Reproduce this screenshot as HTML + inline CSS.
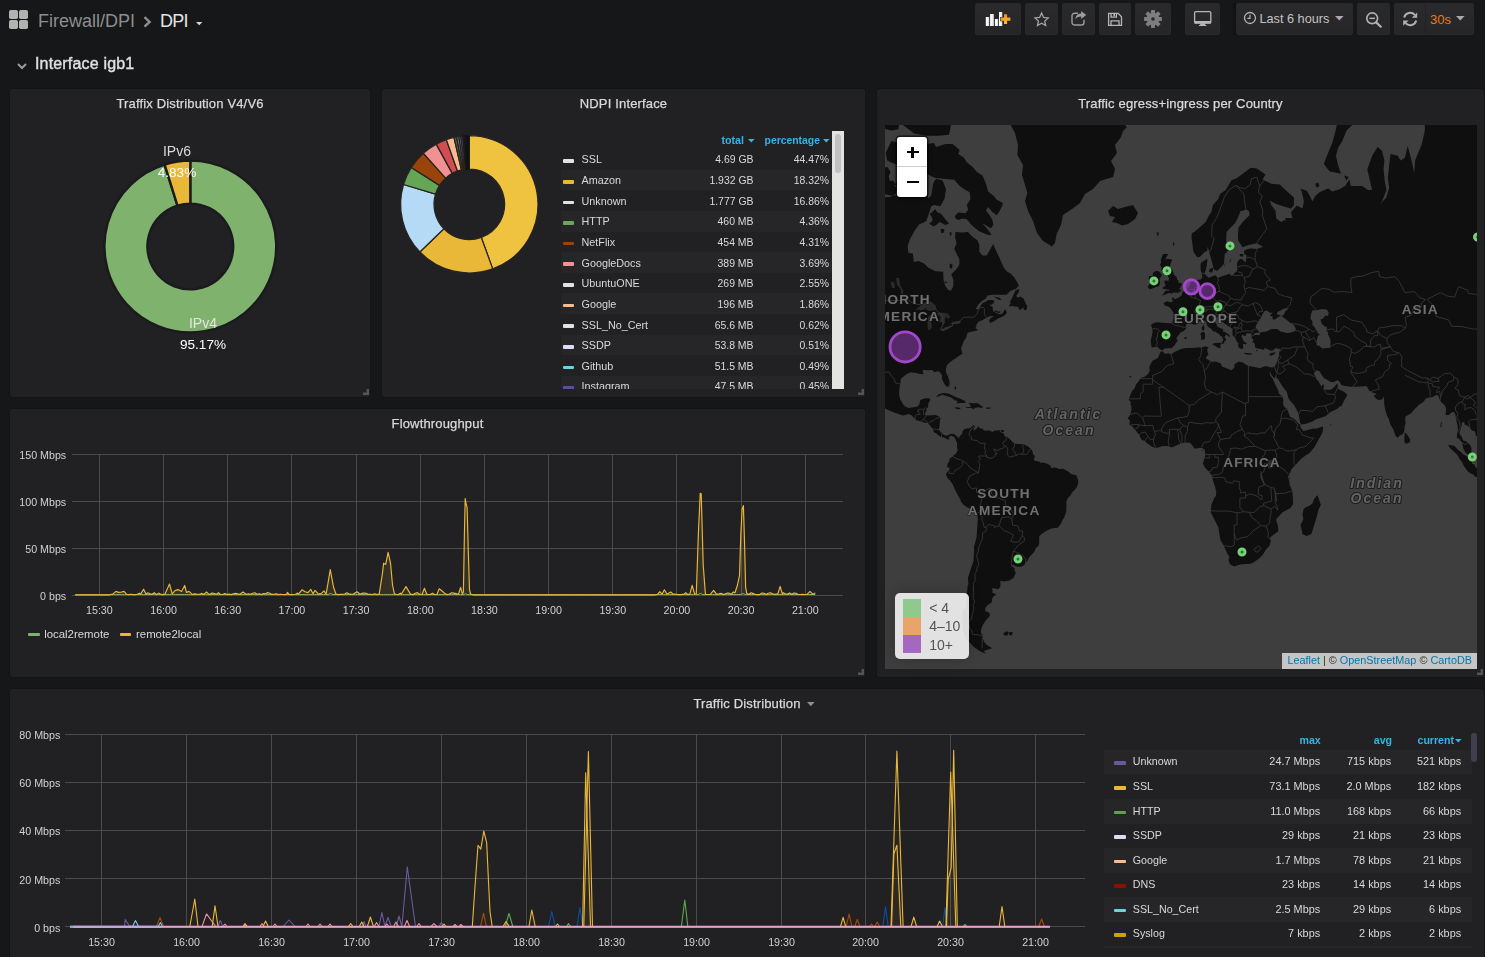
<!DOCTYPE html>
<html><head><meta charset="utf-8"><title>DPI</title>
<style>
*{box-sizing:border-box}
html,body{margin:0;padding:0}
body{width:1485px;height:957px;overflow:hidden;background:#161719;color:#d8d9da;font-family:"Liberation Sans",sans-serif;font-size:12px;position:relative}
.abs{position:absolute}
.panel{position:absolute;background:#212124;border:1px solid #141414;border-radius:3px}
.ptitle{position:absolute;left:0;right:0;text-align:center;font-size:13px;color:#d8d9da;letter-spacing:.16px;-webkit-text-stroke:.25px #d8d9da;white-space:nowrap}
.t{position:absolute;white-space:nowrap;line-height:1}
.rz{position:absolute;width:6px;height:6px}
.btn{position:absolute;top:3px;height:32px;border-radius:2px;background:linear-gradient(#2a2a2c,#262628);border:1px solid #29292b}
svg{position:absolute;overflow:visible}

</style></head>
<body>
<div id="grid" style="position:absolute;left:0;top:40px;width:1485px;height:917px;overflow:hidden;will-change:transform"><div style="position:absolute;left:0;top:-40px;width:1485px;height:957px">
<svg style="left:17px;top:63px" width="10" height="7" viewBox="0 0 10 7"><path d="M1 1 L5 5 L9 1" fill="none" stroke="#9a9a9a" stroke-width="2"/></svg>
<div class="t" style="left:35px;top:56px;font-size:16px;color:#e0e0e0;letter-spacing:.17px;-webkit-text-stroke:.4px #e0e0e0">Interface igb1</div>
<div class="panel" style="left:9px;top:88px;width:362px;height:310px"><div class="ptitle" style="top:7px">Traffix Distribution V4/V6</div><svg class="rz" style="right:1px;bottom:2px" width="6" height="6" viewBox="0 0 6 6"><path d="M3.6 0H6V6H0V3.6H3.6Z" fill="#555558"/></svg></div><svg style="left:0;top:0" width="1485" height="957" viewBox="0 0 1485 957"><path d="M190.30 160.60A85.9 85.9 0 1 1 164.63 164.53L177.48 205.56A42.9 42.9 0 1 0 190.30 203.60Z" fill="#7EB26D" stroke="#1b1b1d" stroke-width="2.4" stroke-linejoin="round"/><path d="M164.63 164.53A85.9 85.9 0 0 1 190.30 160.60L190.30 203.60A42.9 42.9 0 0 0 177.48 205.56Z" fill="#EAB839" stroke="#1b1b1d" stroke-width="2.4" stroke-linejoin="round"/></svg><div class="t" style="left:127px;width:100px;text-align:center;top:144px;font-size:14px;color:#d8d9da">IPv6</div><div class="t" style="left:127px;width:100px;text-align:center;top:165.8px;font-size:13.6px;color:#fff">4.83%</div><div class="t" style="left:153px;width:100px;text-align:center;top:315.8px;font-size:14px;color:#e4e4e4">IPv4</div><div class="t" style="left:153px;width:100px;text-align:center;top:337.6px;font-size:13.6px;color:#fff">95.17%</div>
<div class="panel" style="left:381px;top:88px;width:485px;height:310px"><div class="ptitle" style="top:7px">NDPI Interface</div><svg class="rz" style="right:1px;bottom:2px" width="6" height="6" viewBox="0 0 6 6"><path d="M3.6 0H6V6H0V3.6H3.6Z" fill="#555558"/></svg></div><svg style="left:0;top:0" width="1485" height="957" viewBox="0 0 1485 957"><path d="M469.30 135.60A68.7 68.7 0 0 1 492.69 268.89L481.32 237.49A35.3 35.3 0 0 0 469.30 169.00Z" fill="#EFC340" stroke="#27231f" stroke-width="1.25" stroke-linejoin="round"/><path d="M492.69 268.89A68.7 68.7 0 0 1 419.84 251.99L443.89 228.80A35.3 35.3 0 0 0 481.32 237.49Z" fill="#EAB839" stroke="#27231f" stroke-width="1.25" stroke-linejoin="round"/><path d="M419.84 251.99A68.7 68.7 0 0 1 403.51 184.51L435.50 194.13A35.3 35.3 0 0 0 443.89 228.80Z" fill="#B4DAF6" stroke="#27231f" stroke-width="1.25" stroke-linejoin="round"/><path d="M403.51 184.51A68.7 68.7 0 0 1 411.32 167.45L439.51 185.37A35.3 35.3 0 0 0 435.50 194.13Z" fill="#65A556" stroke="#27231f" stroke-width="1.25" stroke-linejoin="round"/><path d="M411.32 167.45A68.7 68.7 0 0 1 423.29 153.28L445.66 178.09A35.3 35.3 0 0 0 439.51 185.37Z" fill="#99440A" stroke="#27231f" stroke-width="1.25" stroke-linejoin="round"/><path d="M423.29 153.28A68.7 68.7 0 0 1 436.24 144.08L452.31 173.36A35.3 35.3 0 0 0 445.66 178.09Z" fill="#F29191" stroke="#27231f" stroke-width="1.25" stroke-linejoin="round"/><path d="M436.24 144.08A68.7 68.7 0 0 1 446.27 139.57L457.47 171.04A35.3 35.3 0 0 0 452.31 173.36Z" fill="#D04E52" stroke="#27231f" stroke-width="1.25" stroke-linejoin="round"/><path d="M446.27 139.57A68.7 68.7 0 0 1 453.98 137.33L461.43 169.89A35.3 35.3 0 0 0 457.47 171.04Z" fill="#F9BA8F" stroke="#27231f" stroke-width="1.25" stroke-linejoin="round"/><path d="M453.98 137.33A68.7 68.7 0 0 1 456.60 136.78L462.77 169.61A35.3 35.3 0 0 0 461.43 169.89Z" fill="#3F6833" stroke="#27231f" stroke-width="1.25" stroke-linejoin="round"/><path d="M456.60 136.78A68.7 68.7 0 0 1 458.77 136.41L463.89 169.42A35.3 35.3 0 0 0 462.77 169.61Z" fill="#7a8090" stroke="#27231f" stroke-width="1.25" stroke-linejoin="round"/><path d="M458.77 136.41A68.7 68.7 0 0 1 460.86 136.12L464.96 169.27A35.3 35.3 0 0 0 463.89 169.42Z" fill="#52708e" stroke="#27231f" stroke-width="1.25" stroke-linejoin="round"/><path d="M460.86 136.12A68.7 68.7 0 0 1 462.79 135.91L465.96 169.16A35.3 35.3 0 0 0 464.96 169.27Z" fill="#5a4a86" stroke="#27231f" stroke-width="1.25" stroke-linejoin="round"/><path d="M462.79 135.91A68.7 68.7 0 0 1 469.30 135.60L469.30 169.00A35.3 35.3 0 0 0 465.96 169.16Z" fill="#121214" stroke="#1a1a1c" stroke-width="1"/><path d="M462.79 135.91A68.7 68.7 0 0 1 463.87 135.81L466.51 169.11A35.3 35.3 0 0 0 465.96 169.16Z" fill="#2d3a4a" stroke="#111" stroke-width=".6"/><path d="M463.87 135.81A68.7 68.7 0 0 1 464.65 135.76L466.91 169.08A35.3 35.3 0 0 0 466.51 169.11Z" fill="#3a2d4a" stroke="#111" stroke-width=".6"/><path d="M464.65 135.76A68.7 68.7 0 0 1 465.22 135.72L467.20 169.06A35.3 35.3 0 0 0 466.91 169.08Z" fill="#2d4a3a" stroke="#111" stroke-width=".6"/><path d="M465.22 135.72A68.7 68.7 0 0 1 465.62 135.70L467.41 169.05A35.3 35.3 0 0 0 467.20 169.06Z" fill="#4a3a2d" stroke="#111" stroke-width=".6"/><path d="M465.62 135.70A68.7 68.7 0 0 1 465.92 135.68L467.56 169.04A35.3 35.3 0 0 0 467.41 169.05Z" fill="#3a3a3a" stroke="#111" stroke-width=".6"/></svg><div class="abs" style="left:560px;top:129px;width:285px;height:260px;overflow:hidden"><div class="t" style="right:90px;top:5px;line-height:12px;font-size:10.7px;font-weight:bold;color:#33B5E5">total<svg style="position:static;margin-left:4px;margin-bottom:1.5px" width="7" height="4" viewBox="0 0 7 4"><path d="M0 0H6.6L3.3 3.6Z" fill="#33B5E5"/></svg></div><div class="t" style="right:15px;top:6px;line-height:12px;font-size:10.4px;font-weight:bold;color:#33B5E5">percentage<svg style="position:static;margin-left:3px;margin-bottom:1.5px" width="7" height="4" viewBox="0 0 7 4"><path d="M0 0H6.6L3.3 3.6Z" fill="#33B5E5"/></svg></div><div class="abs" style="left:1px;top:20.00px;width:271px;height:20.64px;background:transparent"><div class="abs" style="left:1.5px;top:10.3px;width:11.5px;height:3.6px;border-radius:1px;background:#e2e2e2"></div><div class="t" style="left:20.5px;top:4.4px;line-height:12px;font-size:10.8px;color:#d8d9da">SSL</div><div class="t" style="right:78.5px;top:5.4px;line-height:12px;font-size:10.45px;color:#d8d9da">4.69 GB</div><div class="t" style="right:3px;top:5.4px;line-height:12px;font-size:10.4px;color:#d8d9da">44.47%</div></div><div class="abs" style="left:1px;top:40.64px;width:271px;height:20.64px;background:#262628"><div class="abs" style="left:1.5px;top:10.3px;width:11.5px;height:3.6px;border-radius:1px;background:#EAB839"></div><div class="t" style="left:20.5px;top:4.4px;line-height:12px;font-size:10.8px;color:#d8d9da">Amazon</div><div class="t" style="right:78.5px;top:5.4px;line-height:12px;font-size:10.45px;color:#d8d9da">1.932 GB</div><div class="t" style="right:3px;top:5.4px;line-height:12px;font-size:10.4px;color:#d8d9da">18.32%</div></div><div class="abs" style="left:1px;top:61.28px;width:271px;height:20.64px;background:transparent"><div class="abs" style="left:1.5px;top:10.3px;width:11.5px;height:3.6px;border-radius:1px;background:#e2e2e2"></div><div class="t" style="left:20.5px;top:4.4px;line-height:12px;font-size:10.8px;color:#d8d9da">Unknown</div><div class="t" style="right:78.5px;top:5.4px;line-height:12px;font-size:10.45px;color:#d8d9da">1.777 GB</div><div class="t" style="right:3px;top:5.4px;line-height:12px;font-size:10.4px;color:#d8d9da">16.86%</div></div><div class="abs" style="left:1px;top:81.92px;width:271px;height:20.64px;background:#262628"><div class="abs" style="left:1.5px;top:10.3px;width:11.5px;height:3.6px;border-radius:1px;background:#69A85A"></div><div class="t" style="left:20.5px;top:4.4px;line-height:12px;font-size:10.8px;color:#d8d9da">HTTP</div><div class="t" style="right:78.5px;top:5.4px;line-height:12px;font-size:10.45px;color:#d8d9da">460 MB</div><div class="t" style="right:3px;top:5.4px;line-height:12px;font-size:10.4px;color:#d8d9da">4.36%</div></div><div class="abs" style="left:1px;top:102.56px;width:271px;height:20.64px;background:transparent"><div class="abs" style="left:1.5px;top:10.3px;width:11.5px;height:3.6px;border-radius:1px;background:#99440A"></div><div class="t" style="left:20.5px;top:4.4px;line-height:12px;font-size:10.8px;color:#d8d9da">NetFlix</div><div class="t" style="right:78.5px;top:5.4px;line-height:12px;font-size:10.45px;color:#d8d9da">454 MB</div><div class="t" style="right:3px;top:5.4px;line-height:12px;font-size:10.4px;color:#d8d9da">4.31%</div></div><div class="abs" style="left:1px;top:123.20px;width:271px;height:20.64px;background:#262628"><div class="abs" style="left:1.5px;top:10.3px;width:11.5px;height:3.6px;border-radius:1px;background:#F29191"></div><div class="t" style="left:20.5px;top:4.4px;line-height:12px;font-size:10.8px;color:#d8d9da">GoogleDocs</div><div class="t" style="right:78.5px;top:5.4px;line-height:12px;font-size:10.45px;color:#d8d9da">389 MB</div><div class="t" style="right:3px;top:5.4px;line-height:12px;font-size:10.4px;color:#d8d9da">3.69%</div></div><div class="abs" style="left:1px;top:143.84px;width:271px;height:20.64px;background:transparent"><div class="abs" style="left:1.5px;top:10.3px;width:11.5px;height:3.6px;border-radius:1px;background:#e2e2e2"></div><div class="t" style="left:20.5px;top:4.4px;line-height:12px;font-size:10.8px;color:#d8d9da">UbuntuONE</div><div class="t" style="right:78.5px;top:5.4px;line-height:12px;font-size:10.45px;color:#d8d9da">269 MB</div><div class="t" style="right:3px;top:5.4px;line-height:12px;font-size:10.4px;color:#d8d9da">2.55%</div></div><div class="abs" style="left:1px;top:164.48px;width:271px;height:20.64px;background:#262628"><div class="abs" style="left:1.5px;top:10.3px;width:11.5px;height:3.6px;border-radius:1px;background:#F9BA8F"></div><div class="t" style="left:20.5px;top:4.4px;line-height:12px;font-size:10.8px;color:#d8d9da">Google</div><div class="t" style="right:78.5px;top:5.4px;line-height:12px;font-size:10.45px;color:#d8d9da">196 MB</div><div class="t" style="right:3px;top:5.4px;line-height:12px;font-size:10.4px;color:#d8d9da">1.86%</div></div><div class="abs" style="left:1px;top:185.12px;width:271px;height:20.64px;background:transparent"><div class="abs" style="left:1.5px;top:10.3px;width:11.5px;height:3.6px;border-radius:1px;background:#e2e2e2"></div><div class="t" style="left:20.5px;top:4.4px;line-height:12px;font-size:10.8px;color:#d8d9da">SSL_No_Cert</div><div class="t" style="right:78.5px;top:5.4px;line-height:12px;font-size:10.45px;color:#d8d9da">65.6 MB</div><div class="t" style="right:3px;top:5.4px;line-height:12px;font-size:10.4px;color:#d8d9da">0.62%</div></div><div class="abs" style="left:1px;top:205.76px;width:271px;height:20.64px;background:#262628"><div class="abs" style="left:1.5px;top:10.3px;width:11.5px;height:3.6px;border-radius:1px;background:#DEDAF7"></div><div class="t" style="left:20.5px;top:4.4px;line-height:12px;font-size:10.8px;color:#d8d9da">SSDP</div><div class="t" style="right:78.5px;top:5.4px;line-height:12px;font-size:10.45px;color:#d8d9da">53.8 MB</div><div class="t" style="right:3px;top:5.4px;line-height:12px;font-size:10.4px;color:#d8d9da">0.51%</div></div><div class="abs" style="left:1px;top:226.40px;width:271px;height:20.64px;background:transparent"><div class="abs" style="left:1.5px;top:10.3px;width:11.5px;height:3.6px;border-radius:1px;background:#6ED0E0"></div><div class="t" style="left:20.5px;top:4.4px;line-height:12px;font-size:10.8px;color:#d8d9da">Github</div><div class="t" style="right:78.5px;top:5.4px;line-height:12px;font-size:10.45px;color:#d8d9da">51.5 MB</div><div class="t" style="right:3px;top:5.4px;line-height:12px;font-size:10.4px;color:#d8d9da">0.49%</div></div><div class="abs" style="left:1px;top:247.04px;width:271px;height:20.64px;background:#262628"><div class="abs" style="left:1.5px;top:10.3px;width:11.5px;height:3.6px;border-radius:1px;background:#614D93"></div><div class="t" style="left:20.5px;top:4.4px;line-height:12px;font-size:10.8px;color:#d8d9da">Instagram</div><div class="t" style="right:78.5px;top:5.4px;line-height:12px;font-size:10.45px;color:#d8d9da">47.5 MB</div><div class="t" style="right:3px;top:5.4px;line-height:12px;font-size:10.4px;color:#d8d9da">0.45%</div></div><div class="abs" style="left:272px;top:2px;width:12px;height:258px;background:#e3e3e1"></div><div class="abs" style="left:275px;top:5px;width:6px;height:39px;border-radius:3px;background:#c1c1c1"></div></div>
<div class="panel" style="left:876px;top:88px;width:609px;height:590px"><div class="ptitle" style="top:7px">Traffic egress+ingress per Country</div><svg class="rz" style="right:1px;bottom:2px" width="6" height="6" viewBox="0 0 6 6"><path d="M3.6 0H6V6H0V3.6H3.6Z" fill="#555558"/></svg></div><svg style="left:885px;top:125px;overflow:hidden" width="592" height="544" viewBox="885 125 592 544"><rect x="885" y="125" width="592" height="544" fill="#3e3e3e"/><path d="M875.8 192.3L890.0 195.4L897.7 195.4L903.4 191.6L904.2 182.9L907.1 164.1L909.1 160.5L912.8 165.9L915.6 173.8L914.2 181.3L919.9 187.7L925.6 187.7L928.4 198.4L931.3 195.4L933.2 182.9L936.1 178.8L942.6 180.4L946.0 189.2L944.6 198.4L940.4 206.3L934.1 204.9L931.3 206.3L929.0 213.3L926.1 221.2L919.0 224.5L914.2 231.4L909.9 239.2L907.6 246.2L908.5 252.9L912.8 253.4L913.9 262.0L918.5 260.9L924.1 263.6L928.4 267.7L935.5 271.2L943.2 271.7L943.5 280.0L945.2 285.7L948.0 289.8L950.9 290.7L953.2 286.6L953.4 279.5L951.2 274.2L956.0 269.7L959.4 264.6L959.4 259.4L956.6 253.4L954.3 249.0L956.6 243.3L955.1 237.4L955.4 232.0L962.5 232.6L967.9 232.0L972.5 236.8L977.6 240.4L979.3 245.0L979.3 251.8L982.5 255.6L986.7 255.6L990.1 249.6L993.3 243.9L995.3 249.0L999.2 257.2L1001.5 262.5L1003.8 267.7L1006.6 271.2L1010.9 273.7L1014.3 277.6L1017.4 282.4L1018.9 285.7L1015.7 288.9L1010.6 290.7L1006.6 294.8L999.5 294.8L992.4 294.8L987.6 295.6L985.6 298.7L981.9 300.9L978.5 304.3L975.6 309.0L978.2 309.4L982.2 303.5L988.7 300.0L993.5 300.0L994.4 302.2L991.6 304.8L989.0 304.8L992.7 306.9L993.0 311.0L995.8 312.7L999.5 314.3L1002.1 313.9L1005.2 309.0L1006.9 313.1L1003.8 315.9L998.1 318.4L993.5 321.5L990.4 323.1L989.0 320.4L990.1 318.8L993.8 315.9L991.0 315.9L987.3 317.2L982.5 320.0L978.2 321.9L976.2 325.1L976.2 326.6L975.3 328.2L977.1 329.3L978.2 330.1L975.9 330.8L973.6 331.2L969.7 332.0L967.1 333.5L966.8 335.3L966.0 338.3L964.0 340.5L962.3 345.2L961.1 347.7L961.7 350.9L962.5 353.7L959.4 355.4L955.7 358.2L952.6 360.2L949.7 362.6L946.9 365.3L945.8 369.6L946.3 372.9L948.0 376.5L949.5 381.0L949.5 384.8L948.3 386.7L946.6 386.7L944.6 384.2L943.2 381.6L941.8 378.4L942.1 375.2L939.2 371.6L937.5 371.3L934.7 372.3L931.8 370.0L928.1 370.3L924.7 370.0L922.4 370.6L923.6 374.2L919.9 373.9L916.2 372.9L911.3 372.3L907.9 373.2L904.5 375.8L900.8 378.7L900.3 384.2L899.4 388.9L899.1 395.1L900.5 399.7L903.1 404.2L904.8 406.3L908.5 408.1L911.9 407.5L915.0 406.9L917.6 406.6L919.3 404.5L920.2 400.3L921.3 399.4L925.6 398.2L929.3 398.2L930.4 399.7L928.4 403.3L928.1 407.2L926.4 408.7L926.1 411.7L924.4 415.0L927.0 415.6L931.3 415.3L935.5 415.0L938.7 416.2L940.6 417.6L939.8 422.0L939.5 426.4L938.9 429.3L939.8 431.1L942.1 433.4L944.1 435.1L946.9 435.7L949.7 434.5L951.2 433.7L954.0 433.9L956.9 436.2L957.7 438.3L955.7 440.3L954.6 437.4L951.2 435.4L948.6 437.4L949.7 439.7L946.9 439.1L944.1 437.4L941.2 437.1L939.2 436.0L936.4 433.4L933.8 432.2L933.2 429.3L931.0 426.7L928.7 424.1L927.8 422.6L925.6 422.9L921.3 421.5L917.0 420.6L914.8 418.8L911.3 415.3L908.5 414.1L905.7 415.0L902.8 415.6L898.5 414.1L893.4 412.3L888.6 410.2L885.7 408.7L875.8 404.2ZM957.1 436.5L958.8 438.0L960.3 435.4L962.3 433.7L962.5 431.1L964.5 429.3L966.2 428.4L969.7 428.2L973.4 425.3L975.1 426.4L973.6 429.3L974.2 430.5L977.3 427.9L978.2 425.8L979.3 427.9L982.7 428.7L983.9 430.5L987.0 430.5L989.6 430.5L992.4 431.9L994.4 430.8L998.1 430.2L1001.2 430.2L999.5 431.6L1003.8 433.7L1004.6 436.2L1007.2 437.1L1010.9 440.0L1012.0 441.4L1014.6 443.7L1018.6 444.0L1023.7 444.3L1028.5 446.8L1030.5 448.8L1032.2 450.3L1033.1 454.5L1035.1 456.0L1033.7 459.4L1035.1 460.8L1039.3 461.7L1040.8 462.8L1043.0 462.5L1046.5 463.6L1050.4 465.6L1051.3 467.9L1055.0 467.6L1059.3 469.1L1063.5 468.8L1067.8 471.3L1071.5 474.2L1076.3 475.3L1077.2 477.3L1078.3 481.0L1078.0 483.9L1076.9 487.1L1075.8 488.5L1073.8 490.8L1072.1 492.3L1070.6 495.2L1067.8 498.1L1066.4 501.0L1066.4 505.4L1066.4 509.9L1065.8 512.9L1064.1 517.7L1062.7 519.8L1060.7 524.1L1057.8 527.7L1054.4 528.1L1050.7 528.7L1045.6 531.2L1041.3 534.3L1039.3 536.2L1039.1 540.3L1039.3 542.5L1038.5 545.8L1035.9 548.0L1034.2 552.0L1031.7 554.6L1029.1 557.3L1027.4 561.0L1025.4 562.7L1024.3 565.1L1021.1 566.8L1017.4 566.8L1012.9 565.1L1011.2 563.7L1011.2 565.8L1014.6 568.2L1014.6 571.4L1016.0 572.1L1013.7 577.8L1009.5 580.4L1003.8 581.4L1000.4 580.7L1000.4 587.0L998.1 589.3L992.4 588.1L992.4 592.7L996.4 594.6L994.4 595.8L992.4 597.7L991.6 602.4L988.1 604.8L985.3 608.1L985.3 611.0L989.6 613.0L989.9 616.0L985.3 621.1L982.5 625.5L981.0 629.5L981.0 632.7L982.7 635.9L982.5 637.8L983.9 641.6L986.7 645.0L991.0 647.4L991.8 648.4L988.1 649.4L983.9 650.9L985.9 653.8L979.6 650.9L973.9 646.9L969.7 642.6L964.8 637.8L963.1 630.0L962.5 623.3L962.3 616.8L962.5 611.8L965.4 607.7L966.2 600.5L966.0 597.3L967.1 591.9L967.7 585.1L968.5 584.4L967.9 577.8L969.1 574.2L969.4 573.2L970.8 568.9L972.5 563.7L973.6 560.3L973.9 553.6L974.2 550.3L973.9 547.1L975.3 542.2L976.5 537.4L977.1 529.6L977.6 521.9L977.9 519.5L977.3 514.4L974.5 511.7L971.1 509.0L966.8 506.9L963.4 504.8L960.6 501.0L960.6 500.1L958.0 495.5L956.3 492.3L954.6 488.8L953.7 486.8L952.6 483.9L950.0 480.5L947.5 477.9L946.3 475.6L946.0 474.2L947.5 471.6L948.6 470.8L950.0 467.9L947.2 467.3L947.5 463.6L947.8 463.4L949.5 460.8L949.7 458.5L950.6 458.0L952.9 456.5L953.2 455.7L956.0 453.4L958.0 449.7L956.9 448.0L957.1 444.8L956.9 442.3L955.7 440.3ZM1160.8 351.6L1162.2 351.3L1164.8 353.7L1168.8 353.4L1171.6 354.1L1174.5 352.0L1177.9 350.6L1181.0 349.1L1185.8 348.1L1191.5 348.1L1197.2 347.4L1202.0 347.5L1205.2 346.3L1206.6 346.7L1208.6 347.2L1207.2 349.5L1207.5 352.3L1208.6 354.4L1206.3 356.8L1206.0 358.5L1208.9 360.2L1212.3 361.9L1214.8 361.6L1217.7 362.3L1220.8 363.6L1222.0 366.6L1226.5 368.3L1231.3 370.3L1234.2 368.0L1234.5 364.3L1238.5 361.6L1243.0 362.6L1245.6 364.6L1248.4 366.0L1255.0 367.0L1259.8 368.3L1262.6 367.0L1265.8 366.0L1269.2 367.0L1270.0 371.3L1269.5 372.6L1270.3 375.5L1272.6 378.4L1273.7 381.0L1275.4 384.8L1278.3 390.4L1278.8 393.5L1282.3 396.6L1283.4 399.7L1283.1 403.9L1284.0 406.6L1286.8 408.7L1288.8 413.2L1290.2 417.0L1294.5 419.1L1297.9 422.9L1300.5 425.0L1300.5 427.6L1303.3 431.1L1307.6 429.9L1312.1 428.7L1316.7 428.4L1321.8 426.7L1323.2 427.0L1322.9 430.8L1321.8 433.9L1319.5 438.0L1316.7 443.1L1313.8 448.0L1309.0 453.4L1306.2 455.1L1301.0 459.1L1296.8 463.4L1293.9 466.5L1291.6 469.1L1290.2 472.2L1287.9 477.3L1289.1 480.2L1289.7 485.1L1292.2 490.8L1292.8 496.6L1293.1 504.0L1290.5 508.1L1285.4 510.8L1282.3 512.6L1277.7 517.4L1276.6 518.3L1276.3 521.3L1278.0 525.6L1278.3 531.2L1273.2 534.9L1270.0 537.4L1270.9 540.6L1269.5 545.8L1265.5 550.0L1263.2 554.3L1259.5 558.3L1256.7 560.3L1252.7 563.1L1250.1 563.7L1245.6 564.1L1239.9 564.4L1234.2 566.5L1231.3 565.1L1229.6 563.4L1228.5 559.7L1229.4 557.0L1226.5 552.0L1223.9 545.8L1220.5 540.0L1219.4 534.3L1218.5 528.1L1215.7 521.9L1212.3 515.3L1210.9 512.9L1210.9 508.4L1211.7 504.0L1214.3 498.1L1216.0 496.1L1216.3 491.7L1214.8 485.9L1212.3 477.9L1212.0 475.9L1210.9 474.2L1208.6 471.3L1204.9 467.6L1202.9 463.6L1204.0 459.7L1204.9 457.4L1205.2 454.3L1204.9 450.8L1204.3 449.4L1202.3 448.0L1199.2 448.0L1197.2 448.6L1194.4 448.6L1192.4 445.4L1189.8 442.8L1187.0 442.6L1184.1 442.8L1180.7 443.4L1178.2 444.6L1175.0 446.0L1171.6 447.4L1168.5 446.3L1165.9 446.0L1161.7 446.3L1156.0 448.3L1151.7 446.6L1146.6 442.8L1144.6 441.1L1141.7 439.7L1139.8 436.5L1139.5 434.5L1138.3 433.7L1135.8 430.5L1134.3 429.3L1132.9 426.7L1129.8 425.3L1129.5 422.9L1130.1 421.7L1128.9 419.1L1127.5 418.5L1129.8 415.6L1130.4 414.4L1131.5 409.3L1131.2 405.7L1130.4 404.5L1130.9 401.8L1128.9 400.3L1128.9 398.5L1130.4 395.1L1131.8 391.4L1134.6 388.3L1136.1 384.2L1138.6 381.6L1140.6 378.1L1144.6 376.8L1148.0 373.9L1149.7 370.9L1149.4 367.0L1150.8 363.6L1152.8 360.6L1155.7 359.2L1158.0 357.9L1159.7 353.7ZM1424.8 113.0L1490.2 113.0L1490.2 435.1L1476.0 436.2L1475.4 432.8L1474.5 431.1L1471.7 430.5L1470.0 427.6L1467.4 425.8L1464.6 424.4L1464.3 422.3L1463.2 422.0L1461.7 422.9L1461.5 426.4L1460.6 429.3L1459.5 432.2L1459.8 434.5L1461.7 436.5L1462.9 440.3L1466.0 441.4L1468.0 443.1L1470.6 445.7L1471.4 448.0L1471.4 450.8L1471.7 453.4L1473.7 456.8L1471.7 457.1L1468.0 454.5L1465.4 452.5L1463.7 449.4L1462.6 445.4L1462.0 442.3L1460.9 441.1L1458.3 438.0L1456.9 438.3L1456.9 435.1L1457.8 431.3L1457.8 426.4L1456.6 422.0L1456.3 419.1L1454.9 413.2L1453.2 411.7L1450.9 412.9L1448.4 415.3L1445.5 414.7L1446.1 410.2L1445.8 407.2L1443.8 404.2L1441.5 402.4L1439.8 399.7L1438.4 395.7L1436.1 394.8L1434.7 396.0L1431.9 397.2L1429.0 397.5L1426.2 398.2L1424.8 399.7L1424.2 401.2L1421.4 403.3L1419.1 404.8L1414.2 409.6L1411.4 412.9L1408.3 415.0L1405.7 416.2L1405.1 419.1L1405.7 423.2L1404.6 426.4L1404.3 431.1L1402.6 434.2L1399.7 435.4L1397.7 437.7L1396.0 436.5L1394.3 432.5L1392.9 428.4L1390.6 425.0L1390.1 423.8L1388.9 419.1L1387.2 416.2L1385.8 411.7L1384.4 405.7L1384.1 401.2L1384.1 398.2L1383.2 396.6L1382.7 399.1L1379.3 400.3L1376.4 399.1L1373.6 395.7L1377.0 393.9L1372.1 392.6L1371.3 391.4L1369.0 390.4L1367.9 387.9L1366.5 386.1L1360.8 386.4L1355.1 386.7L1350.8 386.7L1345.1 386.1L1341.4 385.1L1339.4 381.6L1337.4 380.3L1333.2 382.3L1329.5 381.6L1326.6 379.4L1323.8 378.1L1321.8 374.9L1319.5 371.3L1316.4 370.3L1313.8 373.2L1315.3 376.2L1316.1 378.7L1318.7 381.6L1319.8 383.5L1321.5 386.7L1322.4 384.8L1323.2 383.9L1324.1 386.4L1323.2 388.6L1324.1 389.8L1326.6 389.8L1330.9 389.8L1332.0 388.9L1334.6 386.4L1336.9 383.9L1337.7 383.2L1337.7 387.3L1338.3 388.9L1344.0 391.7L1347.4 395.1L1345.1 398.8L1343.7 401.5L1341.7 405.7L1340.0 406.3L1337.4 408.7L1334.3 410.2L1330.9 411.7L1325.8 415.9L1319.5 418.2L1316.7 419.1L1312.4 421.5L1305.3 424.1L1301.0 424.4L1300.2 422.6L1299.3 418.2L1298.5 413.5L1296.2 408.7L1293.4 404.2L1289.7 400.3L1288.5 398.2L1286.8 392.0L1285.4 390.1L1283.1 387.3L1281.1 384.2L1278.3 379.4L1276.3 377.8L1276.9 372.9L1275.1 377.5L1274.7 378.6L1272.9 376.8L1271.2 374.5L1269.9 371.4L1269.2 367.0L1272.6 367.6L1274.9 366.6L1276.1 364.5L1276.9 361.9L1278.3 358.2L1279.1 356.1L1279.1 352.7L1280.3 348.8L1278.3 348.8L1275.7 348.1L1273.2 350.2L1270.6 350.7L1264.6 347.7L1264.1 349.9L1260.1 348.8L1257.5 348.4L1255.2 347.4L1254.7 344.1L1253.8 342.3L1252.4 342.7L1253.5 339.1L1251.5 338.3L1251.8 336.5L1255.0 335.0L1259.8 335.0L1259.8 332.7L1262.6 332.0L1266.6 331.6L1269.7 329.7L1272.6 328.9L1277.1 328.9L1280.6 331.6L1284.0 332.3L1286.8 333.1L1290.2 332.7L1294.8 331.2L1295.6 330.5L1295.6 328.2L1293.9 325.1L1290.2 322.7L1286.8 320.0L1284.8 318.4L1282.5 316.8L1281.4 315.9L1284.0 314.7L1285.4 311.0L1289.1 308.6L1285.4 308.6L1284.0 308.6L1281.1 310.2L1277.4 311.9L1276.9 314.3L1280.8 315.5L1278.0 317.2L1274.6 319.6L1272.6 319.2L1272.6 316.4L1269.7 315.5L1272.9 312.7L1269.7 312.7L1266.9 310.6L1264.6 311.0L1262.6 313.9L1261.8 316.4L1258.9 320.4L1256.7 324.3L1255.5 327.0L1256.9 329.3L1258.7 331.2L1259.8 332.3L1256.9 332.7L1255.0 333.1L1253.2 335.0L1251.8 336.3L1251.5 334.2L1251.0 333.5L1247.0 333.1L1245.6 335.0L1246.1 336.1L1243.9 335.7L1242.4 334.2L1241.6 336.5L1242.7 339.1L1243.6 341.6L1245.6 343.1L1245.6 344.9L1244.7 344.1L1242.7 344.1L1243.3 345.9L1242.7 349.1L1241.3 349.1L1239.6 348.1L1239.0 348.1L1237.9 344.9L1238.7 343.1L1237.3 342.3L1236.2 340.5L1235.3 337.9L1234.2 337.2L1232.5 335.0L1232.5 331.6L1232.5 329.3L1231.1 327.8L1228.8 326.6L1223.9 323.1L1220.5 320.4L1219.7 317.2L1218.3 315.9L1217.1 317.6L1216.0 316.8L1216.0 314.7L1212.3 315.5L1212.6 317.6L1213.1 320.8L1215.7 322.7L1217.7 327.0L1223.4 329.3L1222.8 331.2L1225.4 332.3L1228.5 334.2L1229.9 336.1L1229.6 337.2L1226.2 334.6L1224.5 336.8L1225.9 339.1L1226.2 340.2L1224.2 341.2L1224.5 342.3L1223.1 344.1L1221.8 343.4L1222.2 341.6L1223.4 340.2L1222.0 336.5L1220.0 335.7L1219.4 333.9L1217.7 333.5L1216.0 332.0L1213.1 331.2L1212.0 329.7L1210.6 328.2L1208.9 327.4L1207.2 325.5L1206.6 323.1L1205.2 320.8L1202.6 319.6L1200.6 321.1L1198.6 321.9L1196.1 324.3L1194.1 324.7L1192.7 323.9L1190.1 323.5L1188.4 323.1L1186.1 324.7L1185.8 327.0L1186.7 327.8L1183.6 331.2L1180.7 332.3L1179.6 333.9L1177.3 336.8L1176.4 338.3L1177.9 340.9L1175.9 342.7L1174.7 345.2L1171.0 348.4L1170.2 348.1L1164.8 348.4L1162.2 350.6L1159.4 349.1L1157.4 346.7L1151.7 347.4L1150.6 341.2L1151.7 336.5L1152.6 332.0L1152.0 327.8L1150.8 325.1L1153.7 323.1L1157.4 322.3L1161.7 322.7L1166.5 323.1L1172.2 323.5L1173.3 319.2L1173.9 314.3L1173.0 311.9L1171.0 309.0L1169.3 306.9L1164.8 305.6L1163.6 303.1L1167.3 301.3L1170.2 302.2L1172.7 301.8L1171.9 297.4L1173.9 297.8L1174.2 299.2L1177.6 298.3L1181.6 295.6L1182.4 292.1L1186.7 289.8L1188.7 287.0L1190.7 282.4L1192.9 280.9L1197.2 280.0L1200.6 279.5L1202.3 277.6L1201.8 273.2L1200.6 270.2L1200.6 264.1L1201.8 262.0L1207.5 258.8L1206.9 265.1L1205.7 270.2L1204.6 272.7L1205.7 275.2L1208.6 277.6L1208.3 278.1L1211.7 276.6L1215.7 275.2L1217.7 278.1L1222.8 276.1L1229.9 273.7L1230.5 275.6L1233.1 275.6L1234.2 273.2L1237.0 271.2L1237.3 269.2L1237.0 263.6L1238.5 259.9L1241.6 258.8L1245.6 262.5L1246.7 255.6L1244.1 253.4L1244.1 250.7L1247.6 249.0L1251.3 248.4L1256.9 249.0L1263.2 246.7L1259.8 245.0L1256.9 243.3L1248.4 245.0L1242.7 247.3L1240.4 243.9L1238.2 240.4L1237.9 234.4L1238.5 227.6L1242.7 221.9L1249.5 215.3L1249.0 211.2L1247.0 209.8L1245.9 209.8L1240.4 211.2L1238.5 216.6L1235.0 223.2L1229.9 228.3L1226.5 232.0L1226.2 242.1L1229.9 244.5L1231.3 247.9L1228.8 250.1L1224.8 254.0L1224.2 259.9L1223.9 264.1L1221.7 266.6L1218.0 270.2L1216.6 270.7L1214.3 269.7L1213.4 267.7L1211.1 258.8L1209.2 252.3L1207.7 246.7L1207.2 250.7L1204.3 252.3L1200.1 256.7L1197.2 257.2L1193.5 251.8L1192.4 243.9L1191.5 237.4L1191.8 233.2L1194.9 231.4L1198.6 228.3L1202.9 224.5L1205.7 221.9L1208.6 216.0L1211.4 211.9L1212.9 204.9L1218.3 199.1L1220.0 193.9L1225.7 190.0L1231.3 180.4L1237.0 178.0L1242.7 173.8L1250.7 167.7L1256.9 168.6L1265.5 174.6L1262.6 179.6L1271.2 183.7L1279.7 184.5L1285.4 190.0L1293.9 197.6L1293.9 204.9L1291.1 208.4L1285.4 207.0L1276.9 204.2L1269.7 200.6L1271.2 204.9L1275.4 210.5L1276.3 218.6L1281.1 221.9L1284.8 219.9L1285.4 222.5L1285.4 218.0L1291.1 218.0L1292.5 218.6L1291.1 211.9L1296.8 205.6L1302.5 208.4L1303.9 201.3L1301.9 192.3L1300.5 188.5L1306.7 190.8L1309.6 195.4L1312.4 201.3L1315.3 196.1L1319.5 192.3L1328.1 188.5L1332.3 191.6L1339.4 189.2L1345.1 186.1L1349.4 179.6L1350.8 186.1L1362.2 186.1L1367.9 190.0L1372.1 190.0L1369.3 178.0L1367.3 169.4L1372.1 155.8L1375.0 151.0L1377.8 147.1L1382.1 151.0L1384.4 160.5L1383.5 169.4L1384.9 182.1L1386.4 190.0L1382.1 201.3L1379.3 204.9L1386.4 197.6L1389.2 187.7L1387.8 178.0L1389.2 165.0L1390.6 153.9L1397.7 155.8L1400.6 160.5L1404.9 157.7L1407.7 146.1L1412.0 162.3L1414.2 172.9L1415.1 160.5L1421.9 144.1L1424.8 130.4ZM1161.1 295.9L1165.4 294.5L1168.8 293.0L1171.9 293.4L1173.6 292.5L1178.2 292.7L1181.3 290.9L1181.3 289.8L1179.0 289.3L1180.1 288.0L1182.1 284.3L1181.0 282.8L1178.4 282.8L1178.2 280.0L1177.0 279.5L1176.7 277.1L1173.9 274.7L1173.3 272.7L1172.2 269.2L1169.9 267.7L1168.2 267.7L1169.9 266.1L1171.3 262.0L1172.2 259.4L1167.3 258.8L1165.4 259.9L1166.2 257.2L1168.5 254.0L1163.1 254.0L1162.2 256.1L1160.8 259.9L1161.1 263.6L1159.7 264.1L1161.7 267.7L1161.1 270.7L1163.4 269.2L1163.9 270.2L1162.8 273.2L1163.4 274.2L1167.3 273.2L1167.6 275.2L1168.2 277.1L1169.1 278.6L1168.8 280.5L1167.9 280.7L1165.1 280.5L1164.2 280.9L1164.8 283.3L1163.9 283.3L1165.6 284.3L1165.1 286.1L1162.8 287.5L1162.2 287.5L1163.1 288.9L1165.4 288.9L1168.2 289.8L1169.6 288.9L1168.8 290.7L1165.4 290.7L1164.2 292.5L1162.8 294.8ZM1159.7 280.9L1160.2 282.8L1159.1 286.1L1157.4 286.6L1153.7 288.0L1150.3 289.3L1148.3 288.0L1147.7 286.6L1149.7 284.3L1150.6 282.4L1149.1 280.5L1148.6 277.6L1149.1 276.1L1152.8 276.1L1152.6 274.2L1153.7 272.2L1156.3 270.7L1159.7 271.7L1161.4 274.2L1161.7 276.1L1160.2 277.6L1159.7 278.6ZM1008.6 306.5L1011.2 302.6L1009.5 302.6L1011.5 299.2L1014.3 293.0L1015.7 290.3L1019.4 288.9L1018.6 292.5L1016.0 296.1L1018.0 297.8L1020.3 296.5L1023.7 298.7L1025.1 302.2L1027.4 306.5L1026.3 310.2L1023.7 309.8L1023.7 307.3L1020.9 309.4L1018.6 309.4L1018.6 306.9L1015.2 306.5L1012.3 306.0ZM935.8 396.9L938.4 394.5L942.9 392.9L946.9 393.2L949.7 393.9L952.6 395.4L956.9 397.5L961.1 399.1L964.0 400.6L966.2 402.1L964.0 403.0L961.1 402.9L956.3 403.2L958.0 400.9L955.4 400.6L954.0 399.7L951.2 397.5L948.3 396.6L946.3 396.0L944.1 395.4L942.6 394.5L939.8 396.0L937.5 396.6ZM965.7 407.5L968.5 408.1L971.6 408.1L973.4 409.3L975.3 407.8L978.5 407.2L981.9 408.1L983.0 406.9L981.0 405.7L979.9 404.8L978.2 403.6L975.3 403.2L973.4 403.3L970.2 403.0L968.5 403.3L970.2 404.5L970.5 406.6L971.4 407.1L968.2 406.9L965.7 406.8ZM954.6 407.8L956.9 407.2L960.3 408.1L960.3 409.0L957.7 409.3L954.6 408.1ZM986.2 407.4L990.4 407.5L990.4 408.7L986.2 408.7ZM1212.6 343.8L1215.1 343.1L1221.7 342.7L1220.3 345.6L1220.5 348.4L1217.7 347.4L1214.0 345.2L1212.6 344.5ZM1200.5 332.9L1203.5 331.8L1204.9 333.1L1205.2 336.5L1204.6 339.4L1203.2 339.4L1201.2 340.2L1201.2 336.5L1200.5 334.2ZM1204.0 325.1L1204.5 328.2L1203.5 331.2L1201.8 329.3L1201.8 327.0L1203.2 325.8ZM1244.1 352.7L1246.1 353.0L1250.7 353.2L1252.1 353.7L1251.8 354.4L1247.6 354.8L1244.1 353.5ZM1269.2 354.2L1271.2 353.0L1275.7 352.0L1274.0 354.4L1271.2 355.8L1269.5 355.3ZM1404.6 432.8L1405.4 432.8L1408.3 436.2L1410.3 439.4L1409.7 442.3L1406.6 443.8L1404.9 443.1L1404.4 440.8L1404.3 437.4L1404.6 435.1ZM1317.5 495.2L1320.1 502.5L1320.9 505.1L1319.0 508.4L1317.8 512.3L1316.1 518.9L1313.8 526.5L1311.3 534.0L1306.7 535.9L1302.5 534.3L1301.6 529.3L1300.5 525.0L1303.3 519.5L1302.5 514.4L1303.6 509.0L1306.2 506.9L1309.0 506.0L1312.4 503.4L1313.8 499.6L1316.1 496.6ZM1323.8 164.1L1329.5 171.2L1340.9 173.8L1338.0 165.0L1336.0 155.8L1338.0 148.1L1342.3 141.0L1346.5 130.4L1353.7 123.6L1350.8 113.0L1339.4 113.0L1335.2 132.5L1332.3 143.1L1328.1 153.0ZM1448.4 444.8L1454.6 446.0L1456.9 448.8L1458.0 450.0L1461.2 452.3L1462.9 454.3L1464.6 455.1L1468.0 457.1L1470.3 459.1L1472.6 460.8L1471.7 463.6L1474.3 464.2L1475.4 467.1L1478.8 468.8L1478.8 470.8L1478.5 473.6L1478.2 477.3L1474.8 476.8L1474.0 475.0L1471.7 473.9L1468.3 471.9L1465.7 468.5L1464.0 466.2L1462.7 463.5L1461.2 460.8L1459.2 458.8L1458.3 456.0L1455.5 453.1L1453.8 451.4L1450.7 448.8L1448.7 446.3ZM1209.2 269.2L1213.1 267.4L1213.1 269.7L1212.0 272.7L1209.2 271.7ZM1229.1 262.5L1231.3 257.8L1230.8 260.9ZM1184.1 337.9L1186.1 336.8L1187.0 337.6L1186.1 339.1L1184.4 338.7ZM1329.2 424.7L1332.3 424.8L1330.0 425.5ZM1315.3 183.7L1318.1 182.5L1319.5 186.1L1316.7 187.7ZM921.9 143.1L927.0 144.1L934.1 143.1L936.1 147.1L945.5 144.1L948.3 144.1L952.6 144.1L959.7 150.0L958.3 153.9L964.0 157.7L966.8 162.3L972.5 166.8L976.8 172.0L982.5 175.5L985.3 182.1L986.7 186.1L988.1 191.6L993.8 196.1L996.7 199.8L1002.4 202.7L1002.9 204.2L1000.9 208.4L999.5 211.2L996.7 215.3L992.4 211.9L988.1 207.0L985.9 210.5L989.6 215.3L992.4 219.9L993.3 225.1L991.0 228.3L982.5 223.5L986.7 228.3L989.6 232.0L991.6 235.0L988.1 235.0L983.9 233.2L979.6 231.4L975.3 228.3L971.1 224.5L966.8 219.3L962.5 218.6L958.3 219.9L955.4 218.6L954.9 216.0L958.3 212.6L965.4 213.3L968.2 209.8L966.8 204.9L970.5 199.1L969.7 192.3L965.4 190.0L959.7 186.1L954.0 179.6L951.2 179.6L944.1 178.8L935.5 178.0L931.3 176.3L927.0 173.8L924.1 169.4L921.9 162.3L921.3 154.9L921.6 148.1ZM929.8 213.9L935.5 209.1L936.9 211.9L941.2 213.9L946.9 221.2L949.2 223.2L945.5 225.1L939.8 221.9L934.1 226.4L929.3 223.8L932.7 220.6L931.8 217.3ZM875.8 197.6L890.0 196.9L895.7 193.9L896.8 186.1L892.9 180.4L890.0 181.3L888.6 176.3L890.6 172.0L887.2 166.8L880.1 169.4L877.2 155.8L880.1 149.1L875.8 148.1ZM894.3 185.3L900.0 178.8L904.2 182.1L905.7 186.9L901.4 190.0L895.7 187.7ZM885.7 153.0L891.4 141.0L899.1 143.1L902.0 153.0L898.5 165.0L892.9 163.2L887.2 160.5ZM905.7 141.0L915.6 140.0L920.4 143.1L919.9 151.0L914.2 157.7L911.3 160.5L906.2 158.6L905.1 151.0ZM902.0 113.0L902.8 124.8L914.2 133.6L927.0 135.8L938.4 135.8L948.9 134.7L950.9 125.9L949.7 113.0ZM881.5 113.0L881.5 128.1L891.4 130.4L898.5 129.3L900.0 113.0ZM1003.2 633.6L1006.6 631.3L1008.9 632.3L1007.2 635.5L1004.4 635.5ZM1009.5 631.8L1012.9 632.3L1011.8 635.5L1008.9 635.0ZM993.8 296.5L999.5 297.8L1001.8 300.0L998.1 299.6ZM994.1 310.2L998.1 311.5L1000.9 311.5L999.5 313.1L995.3 311.9ZM1001.2 430.2L1004.1 429.9L1003.8 431.9L1001.2 431.9ZM954.6 386.7L956.3 386.7L956.0 389.5L954.9 389.2ZM1129.2 376.5L1131.5 375.8L1130.7 377.8ZM1288.8 477.0L1289.9 478.5L1289.1 479.3ZM1242.7 340.5L1247.3 343.4L1246.1 343.8L1243.6 341.6ZM1256.1 350.2L1257.5 349.5L1257.2 350.9L1256.4 351.3ZM1344.0 175.5L1348.8 177.1L1346.5 180.4ZM1201.5 450.3L1202.6 450.3L1202.0 451.7ZM1478.5 465.1L1479.7 465.4L1480.2 467.9L1478.8 469.3ZM1483.4 468.2L1485.1 468.5L1484.5 469.9ZM1441.0 422.0L1441.8 422.6L1441.3 427.6L1440.4 427.0ZM1172.7 242.7L1174.7 242.7L1173.6 246.7ZM1156.5 232.6L1158.8 232.6L1158.0 236.8ZM1239.9 254.0L1243.6 254.0L1242.7 256.7L1239.6 256.1ZM1223.9 266.6L1225.9 260.9L1224.5 266.1ZM949.2 232.6L951.7 232.6L950.9 236.8ZM940.6 228.9L944.3 228.9L944.1 232.6L941.2 233.2ZM949.7 263.6L952.6 264.6L952.0 268.7L949.7 267.7ZM943.5 281.4L947.8 281.9L946.0 283.3ZM1010.6 125.0L1015.0 133.0L1018.0 145.0L1017.4 155.0L1023.0 165.0L1022.0 175.0L1025.0 185.0L1027.4 193.0L1025.0 201.0L1028.0 211.0L1033.0 221.0L1037.0 233.0L1043.0 241.0L1052.0 246.4L1055.0 243.0L1056.6 234.0L1061.0 225.0L1063.0 215.0L1072.0 209.0L1080.0 203.0L1085.0 194.0L1093.0 189.0L1100.0 181.0L1113.0 177.0L1115.0 169.0L1111.0 161.0L1117.0 153.0L1115.0 145.0L1121.0 137.0L1123.0 131.0L1127.0 127.0L1125.0 125.0ZM1108.0 211.0L1113.0 206.0L1118.0 209.0L1125.0 207.0L1133.0 205.0L1138.0 213.0L1135.0 219.0L1128.0 224.0L1122.0 225.6L1117.0 223.0L1112.0 222.0L1115.0 217.0L1110.0 216.0Z" fill="#0f0f0f" fill-rule="nonzero"/><path d="M1311.0 314.3L1312.4 310.6L1316.7 310.2L1322.4 309.0L1326.6 309.4L1328.6 311.9L1328.1 315.9L1325.2 315.5L1322.9 318.8L1320.4 319.6L1322.1 324.3L1324.6 326.2L1326.9 327.0L1326.6 330.5L1328.1 332.7L1327.8 333.9L1329.2 336.8L1330.6 340.5L1330.3 345.6L1330.6 347.7L1326.6 348.1L1322.4 348.4L1319.5 345.9L1316.7 345.2L1316.4 342.3L1317.2 339.1L1318.1 335.3L1320.4 335.0L1318.1 333.5L1316.1 329.7L1313.8 326.2L1312.4 325.1L1312.4 321.1L1310.4 318.8Z" fill="#3e3e3e"/><path d="M915.3 310.2L917.6 307.7L921.3 305.6L923.3 304.8L926.4 300.9L931.5 301.8L935.5 305.2L936.4 309.0L936.7 311.0L935.5 310.0L929.8 311.0L925.9 309.4L927.0 307.3L924.1 309.4L920.2 310.6L918.5 309.4ZM928.1 330.1L927.6 327.0L927.6 323.1L928.4 319.2L927.0 318.8L929.8 315.1L931.3 313.9L934.1 313.1L936.1 313.9L934.7 316.4L933.8 318.0L931.8 319.2L931.3 323.1L932.1 327.0L930.4 329.7ZM936.4 313.5L939.8 312.7L942.6 312.7L945.5 313.1L948.3 313.9L950.3 317.6L947.5 318.8L946.0 316.4L944.9 319.2L944.9 323.1L942.9 325.1L942.3 321.9L938.7 322.3L940.1 320.0L940.4 316.8L937.8 314.7ZM940.1 330.1L942.6 331.2L946.9 329.7L950.3 327.8L952.9 325.8L950.3 325.5L948.3 326.6L945.5 327.0L942.6 328.9L940.9 328.2ZM950.3 323.9L952.6 323.9L956.9 323.9L960.6 323.1L960.3 320.8L956.9 321.1L952.6 321.9ZM896.0 278.1L899.1 278.1L900.0 284.7L903.4 291.6L902.8 294.3L901.4 293.9L900.8 289.3L897.1 284.7ZM891.4 281.4L894.3 282.4L894.8 288.0L892.3 288.0L890.6 284.3ZM1268.3 459.9L1273.7 459.9L1274.6 463.6L1272.6 467.9L1268.3 468.5L1267.5 463.6ZM1260.4 470.5L1261.8 473.6L1264.9 484.5L1263.5 484.5L1260.6 477.9ZM1274.0 488.2L1276.3 493.7L1277.4 501.0L1276.0 501.9L1274.9 495.2L1273.7 489.4Z" fill="#3e3e3e" fill-opacity=".62"/><path d="M875.8 300.5L906.5 300.5L907.6 299.2L911.3 302.2L917.0 304.3L922.4 304.8L925.9 303.5M936.1 309.4L936.9 311.0L939.8 313.1L942.6 315.9L942.9 325.1L940.9 328.2L942.6 330.1L952.6 325.8L952.3 323.5L958.8 322.7L960.3 320.4L964.0 317.2L973.9 317.2L975.3 315.9L977.3 313.5L978.2 310.2L980.5 307.1L983.0 307.5L984.4 308.6L984.4 314.3L985.6 316.4L986.7 317.6M901.0 384.3L895.4 382.9L894.3 379.4L891.4 375.8L888.9 371.9L885.2 372.3L883.8 374.5L880.1 372.6L875.8 366.3M915.0 419.0L915.0 416.8L916.5 414.4L920.2 414.4L920.2 413.5L917.3 411.0L918.5 411.0L918.5 409.3L923.7 409.3L923.7 415.0M923.7 409.3L926.1 407.2M926.4 415.6L923.3 419.4L921.0 421.3M923.3 419.4L925.6 420.6L927.6 422.3M929.0 423.5L930.7 421.2L933.5 420.9L936.1 418.2L940.6 417.6M933.5 429.0L936.4 429.3L939.2 429.6M941.5 437.8L941.5 435.1L942.3 433.5M974.5 427.0L971.1 429.0L968.8 434.5L971.4 436.8L971.4 439.7L977.9 440.8L979.9 443.4L985.3 443.1L984.4 448.0L985.9 451.1L984.4 452.8L986.2 454.3L987.0 457.4M987.0 457.4L986.4 456.0L978.8 456.0L978.8 457.7L980.5 459.1L978.2 461.4L979.9 463.9L978.5 472.8M978.5 472.8L976.2 471.6L969.9 467.6L967.7 464.5L963.1 461.1L960.3 459.7L956.9 458.8L953.2 456.8M963.1 461.1L962.3 465.1L959.4 468.2L954.9 470.5L953.4 473.9L950.9 473.3L948.9 473.3L948.9 470.5M978.5 472.8L975.6 473.3L969.9 475.9L967.1 481.6L969.7 486.5L971.6 488.8L976.5 487.9L976.5 492.3L979.3 492.1M979.3 492.1L981.9 496.6L981.0 502.5L979.9 505.7L981.3 508.4L979.3 510.8L979.6 511.4L977.1 513.9M979.3 492.1L983.0 492.3L987.9 489.1L991.3 488.5L991.6 493.7L994.1 496.6L998.7 498.1L1001.5 499.6L1005.2 500.4L1006.1 507.8L1011.2 507.8L1011.8 511.1L1013.7 513.5L1012.9 515.9L1011.8 518.3L1011.9 519.3M1011.9 519.3L1009.2 516.8L1001.5 517.7L999.1 525.7L994.4 527.4L994.1 525.3L991.8 525.3L988.7 524.4L986.2 527.4L984.2 527.4L983.3 522.8L981.6 519.2L982.5 517.1L981.0 515.6L979.6 511.4M986.2 527.4L986.7 528.1L985.9 531.2L982.5 533.0L982.7 538.1L980.5 542.9L978.8 547.4L978.2 551.6L976.5 555.3L978.2 561.4L978.8 564.4L976.8 567.9L977.1 571.0L974.8 573.5L975.3 580.4L973.4 583.7L973.4 592.7L973.1 598.5L974.8 602.0L973.1 604.4L973.9 608.5L972.5 613.9L971.4 619.0L968.5 622.4L969.7 628.6L971.6 630.0L972.5 634.6L978.2 634.6L982.7 636.2M982.2 637.6L982.2 648.4M999.1 525.7L1003.8 530.5L1009.5 532.7L1013.5 535.2L1010.6 541.3L1015.2 542.2L1018.6 541.9L1022.0 536.2M1011.9 519.3L1012.6 525.3L1018.0 525.9L1019.4 530.8L1022.8 531.2L1022.0 536.2M1022.0 536.2L1024.3 537.4L1024.3 541.1L1019.1 544.5L1013.5 551.0M1013.5 551.0L1018.0 553.0L1020.9 554.6L1023.7 556.6L1026.0 559.3L1025.4 562.7M1013.5 551.0L1011.8 558.3L1011.2 563.7M987.0 457.4L991.0 458.5L994.7 456.5L995.3 453.7L997.0 454.3L994.4 450.3L993.5 449.1L998.4 450.6L999.0 449.4L1003.5 448.0L1004.6 446.0L1002.7 444.0L1003.5 441.7L1005.8 440.8L1006.6 436.5M1004.6 446.0L1006.6 446.6L1007.8 449.1L1007.2 454.3L1009.5 457.1L1012.0 456.5L1016.6 455.4L1018.3 453.7L1022.0 454.3L1026.8 454.5L1030.4 449.1M1014.7 444.0L1014.3 446.6L1012.3 449.4L1014.3 451.4L1016.6 455.4M1023.7 444.6L1022.6 446.6L1023.7 450.6L1022.0 454.3M1171.0 354.1L1172.5 359.6L1173.9 363.6L1167.1 365.6L1161.7 371.6L1152.6 375.5L1152.6 380.0M1152.6 378.7L1139.8 378.7M1152.6 380.0L1152.6 384.2L1143.2 384.2L1143.2 392.0L1140.3 393.5L1140.3 398.8L1128.9 398.8M1152.6 380.0L1163.6 387.3L1180.7 399.4L1186.4 403.3L1189.2 405.4L1193.8 404.5L1198.6 400.0L1211.4 392.0M1163.6 387.3L1158.8 387.3L1161.4 416.2L1150.8 416.2L1144.6 415.9L1142.6 418.2M1142.6 418.2L1138.9 414.4L1136.1 412.9L1130.4 414.4M1211.4 392.0L1205.7 388.9L1204.3 382.9L1205.5 378.4L1204.3 370.6M1204.3 370.6L1206.3 369.0L1210.0 362.6L1210.3 360.6M1204.3 370.6L1202.9 364.6L1198.6 359.6L1200.9 355.4L1201.8 347.7M1248.4 366.0L1248.4 396.6L1282.3 396.6M1248.4 396.6L1248.4 402.7L1245.6 402.7L1245.6 404.2M1245.6 404.2L1222.5 392.0L1217.7 394.8L1211.4 392.0M1222.5 392.0L1221.7 403.0L1221.4 412.0L1215.7 419.1L1216.0 421.5L1217.4 423.2M1245.6 404.2L1245.6 415.6L1242.4 416.2L1241.3 420.6L1239.9 424.7L1242.4 429.3L1244.4 432.5L1244.1 436.0M1187.5 427.3L1189.0 422.0L1196.9 423.5L1202.0 423.8L1205.7 422.6L1212.9 423.2L1216.0 421.5M1189.2 405.4L1189.2 412.0L1187.3 416.5L1180.1 417.6L1177.9 417.9M1177.9 417.9L1180.1 422.6L1183.6 425.3L1187.5 427.3M1177.9 417.9L1171.6 420.0L1165.4 422.9L1161.7 428.2L1161.7 431.1M1161.7 431.1L1159.7 430.5L1154.5 431.6L1153.7 429.3L1152.6 425.3L1144.9 425.8L1144.6 423.5L1142.6 418.2M1201.5 447.4L1203.8 442.6L1209.4 441.7L1214.0 433.9L1217.7 428.4L1218.8 424.4L1217.4 423.2M1217.4 423.2L1220.3 429.3L1221.4 432.5L1217.1 432.5L1220.5 439.4L1218.3 443.7L1219.1 447.7L1222.8 452.5L1223.4 454.5M1220.5 439.4L1230.2 438.0L1231.3 435.1L1239.0 430.5L1242.4 429.3M1244.1 436.0L1246.1 437.1L1249.3 440.0L1255.2 446.3M1255.2 446.3L1248.4 446.6L1241.3 449.1L1235.6 448.0L1230.2 448.6L1230.2 450.8L1227.9 459.9L1223.4 467.1L1222.5 472.2L1218.3 474.8L1215.4 474.5L1212.0 475.9M1244.1 436.0L1247.8 432.8L1252.7 433.7L1256.9 434.2L1261.2 432.8L1264.9 433.1L1269.5 427.3L1271.7 425.8L1271.7 429.9L1274.3 433.7L1274.3 436.2M1274.3 436.2L1274.9 430.5L1276.9 426.7L1280.0 424.4L1280.8 419.4L1281.1 417.0L1282.5 411.4L1287.1 408.7M1280.8 419.4L1285.1 417.9L1288.2 418.8L1293.4 420.0L1297.9 425.0M1297.9 425.0L1296.2 429.3L1299.3 429.6L1302.5 435.1L1311.0 438.0L1313.8 438.0L1305.3 446.6L1299.6 447.7L1296.5 449.7L1293.9 452.8L1293.9 463.1L1295.6 465.6M1296.5 449.7L1289.7 451.1L1285.7 450.6L1282.3 448.3L1279.7 448.3L1279.4 447.7L1277.7 445.4L1276.0 441.7L1273.2 436.8L1274.3 436.2M1279.4 447.7L1275.1 450.3L1276.9 456.0L1274.0 460.8L1273.7 463.6L1284.3 469.6L1284.5 470.8L1288.8 474.2M1275.1 450.3L1271.2 450.0L1265.5 450.3L1264.9 454.0L1261.5 458.5L1261.5 464.8M1264.9 450.8L1259.8 448.3L1255.2 446.3M1273.7 463.6L1264.1 463.8L1264.9 467.6L1263.8 471.6L1260.9 473.3L1261.5 478.8L1264.9 484.5L1270.9 487.7L1274.0 487.9L1275.7 493.7L1279.1 493.4L1285.1 493.2L1292.2 490.8M1212.0 477.6L1215.7 477.6L1224.5 477.6L1225.7 481.6L1232.5 483.3L1233.9 480.8L1239.3 481.6L1239.3 487.9L1240.7 490.8L1240.4 492.9L1245.6 492.0L1245.6 498.1L1239.9 498.1L1239.9 507.5L1243.9 511.7M1245.6 496.1L1249.3 494.0L1253.8 494.9L1258.1 496.6L1259.8 499.3L1262.1 499.3L1262.1 495.5L1258.1 494.6L1258.7 487.4L1264.9 484.5M1210.9 510.6L1217.1 511.1L1229.6 511.1L1237.0 512.9L1243.9 511.7L1249.3 512.3M1237.0 512.9L1237.0 525.0L1234.2 525.0L1234.2 533.7L1234.2 545.1M1224.2 545.8L1226.8 546.1L1231.3 546.7L1234.2 545.1M1234.2 533.7L1236.5 540.0L1241.6 537.7L1247.6 536.8L1251.0 533.3L1254.1 529.9L1260.9 525.6M1260.9 525.6L1256.1 520.4L1251.8 517.4L1249.3 512.3L1254.1 512.6L1259.5 506.9L1263.8 505.7L1270.9 509.0L1271.2 512.9L1270.3 515.9L1269.7 522.8L1266.3 526.2L1260.9 525.6M1266.3 526.2L1268.3 532.7L1268.0 537.1L1270.9 540.0M1254.1 549.0L1258.7 545.8L1260.9 548.4L1257.8 552.3L1255.0 551.3L1254.1 549.0M1263.8 505.7L1263.2 503.4L1271.7 501.0L1270.9 487.7M1275.7 493.7L1275.1 502.2L1277.7 507.5L1277.7 510.2L1274.9 506.3L1270.9 509.0M1169.1 446.3L1168.2 441.4L1169.6 433.7L1169.3 429.3M1180.7 443.4L1178.7 439.4L1178.4 433.7L1177.3 429.3M1181.9 443.1L1181.9 435.1L1179.6 429.3M1185.0 442.6L1185.3 435.1L1187.5 431.3L1187.5 427.3M1156.0 448.3L1153.4 442.3L1153.7 439.1L1150.6 439.7L1148.0 436.5L1144.6 441.1M1153.7 439.1L1155.4 433.9L1154.5 431.6M1148.0 436.5L1145.4 432.2L1141.7 432.5L1139.5 434.8M1144.9 425.8L1138.3 424.7L1134.1 424.4L1129.8 425.3M1138.3 424.7L1138.3 427.3L1134.6 429.3M1161.7 431.1L1163.9 432.8L1169.3 433.4M1169.3 429.3L1177.3 429.3L1179.9 429.3L1183.6 425.3M1205.2 454.3L1209.4 454.5L1215.1 454.5L1218.5 454.5L1223.4 454.5M1205.2 458.0L1209.4 458.0L1209.4 454.5M1215.1 454.5L1214.8 457.4L1218.3 457.1L1218.5 462.5L1216.8 467.6L1212.9 467.6L1211.1 471.0L1208.9 471.9M1152.0 329.3L1154.0 328.5L1158.5 329.3L1159.7 330.5L1157.7 332.7L1157.4 337.6L1156.0 337.9L1157.4 343.1L1156.0 345.6L1156.3 346.7M1172.2 323.5L1175.3 325.5L1179.3 325.8L1182.1 327.0L1186.4 327.4M1184.4 291.2L1185.8 292.5L1189.2 295.2L1191.2 297.0L1193.8 298.3L1195.5 298.3L1200.6 300.5L1198.9 306.5L1194.4 311.5L1194.7 312.3L1196.6 313.5L1197.2 316.4L1196.4 319.2L1198.6 320.8L1198.6 321.9M1198.9 306.5L1201.8 306.0L1204.6 306.9L1204.3 309.0L1206.9 309.4L1206.9 311.0L1203.8 311.5L1202.9 313.9L1201.2 311.9L1199.8 313.5L1196.6 313.5M1197.8 280.9L1197.2 285.7L1196.4 287.5L1194.4 288.0L1194.7 292.5L1195.5 298.3M1187.0 289.8L1189.5 289.8L1191.5 289.3L1193.8 290.7L1193.5 292.5L1194.7 292.5M1201.8 273.2L1205.5 273.7M1217.7 278.1L1218.3 280.9L1217.4 283.3L1219.1 286.6L1218.8 288.0L1220.0 291.6L1218.0 291.6L1214.0 294.3L1211.7 294.8L1212.9 297.4L1216.6 301.3L1214.3 303.5L1214.3 306.9L1212.0 306.5L1207.2 306.9L1204.6 306.9M1220.0 291.6L1223.4 293.4L1225.4 294.3L1227.6 294.8L1230.8 298.3L1234.2 299.6L1241.6 300.0L1241.9 297.8L1245.9 292.5L1244.4 289.3L1244.1 284.3L1245.3 282.4L1244.1 277.6L1242.2 275.6L1233.6 275.6M1206.9 309.4L1212.0 309.0L1216.3 311.0L1218.5 311.5L1223.1 309.4L1224.2 306.9L1225.9 304.8L1225.4 302.2L1220.0 300.5L1216.6 301.3M1216.3 311.0L1216.0 314.7M1223.1 309.4L1227.6 313.5L1230.8 313.5L1235.0 312.3L1237.6 311.5L1240.2 306.5L1242.4 304.8L1240.4 303.1L1235.6 302.6L1230.8 305.6L1225.9 304.8M1230.8 298.3L1228.5 301.3L1225.9 304.8M1242.4 304.8L1248.1 306.0L1253.0 303.5L1257.5 315.1L1261.8 316.4M1253.0 303.5L1255.5 302.6L1260.4 305.2L1262.9 311.5L1259.5 311.5L1257.5 315.1M1241.9 320.4L1247.0 322.3L1251.3 321.5L1255.0 320.8L1258.7 322.3M1235.0 312.3L1238.5 316.4L1238.2 318.0L1241.9 320.4L1241.0 323.1L1242.7 324.3L1241.0 327.8M1241.0 327.8L1242.7 331.6L1247.0 330.8L1251.5 331.2L1252.4 330.1L1256.9 328.9M1252.4 330.1L1253.0 331.6L1251.3 333.5M1234.2 337.6L1236.5 333.1L1237.0 333.1L1242.4 331.6M1232.5 329.3L1234.5 327.0L1235.9 329.3L1235.6 331.6L1236.5 333.1M1216.0 315.1L1220.8 315.1L1222.0 312.3L1224.5 311.0M1222.2 316.4L1225.4 316.4L1231.3 317.6L1232.5 320.0L1231.9 323.1L1229.9 326.6M1235.9 329.3L1241.0 327.8M1231.3 317.6L1231.6 313.5M1234.5 327.0L1238.5 327.8L1239.3 323.9L1241.0 323.1M1246.4 257.8L1250.1 257.2L1255.2 259.9M1237.3 267.2L1242.4 265.6L1248.4 266.1L1253.0 269.2L1257.5 266.6M1257.2 249.6L1255.2 253.4L1255.2 259.9L1257.5 266.6M1253.0 269.2L1250.7 273.2L1249.8 276.1L1244.1 277.6M1237.9 271.7L1242.2 273.2L1242.2 275.6M1257.5 266.6L1265.2 269.7L1264.9 273.7L1270.3 280.0L1266.3 281.9L1267.8 286.6M1244.4 289.3L1249.3 287.5L1256.4 288.9L1264.3 290.3L1267.8 286.6M1267.8 286.6L1275.1 288.4L1278.0 293.9L1285.4 296.5L1291.6 297.8L1290.2 304.8L1286.0 308.6M1256.4 243.3L1262.6 234.4L1266.9 228.9L1262.3 215.3L1262.9 210.5L1259.8 202.0L1262.3 196.1L1258.4 192.3L1259.5 186.1M1245.9 209.8L1244.4 199.8L1243.9 193.9L1235.9 185.3M1235.9 185.3L1239.9 187.7L1244.7 188.5L1250.4 184.5L1251.3 178.8L1256.9 177.1L1259.5 186.1L1264.9 179.6M1235.9 185.3L1228.8 190.0L1224.2 197.6L1221.1 206.3L1218.5 213.3L1216.3 218.6L1212.0 225.1L1211.7 236.2L1214.0 238.6L1212.3 245.0L1210.9 250.1L1208.9 252.3M1279.4 351.3L1281.4 350.2L1281.7 348.1L1285.4 348.1L1289.7 348.4L1293.9 347.0L1297.9 347.0L1304.7 346.7M1304.7 346.7L1303.0 342.7L1302.5 338.7L1304.7 337.6L1301.6 336.1L1301.0 332.3L1298.2 330.8L1295.3 330.8M1291.1 323.5L1298.2 324.3L1303.9 326.2L1309.3 329.3L1313.5 332.0L1315.5 329.7M1301.0 332.3L1305.3 331.6L1309.3 329.3M1305.3 331.6L1306.7 334.2L1309.6 338.3L1309.6 340.5L1313.8 337.6L1316.4 342.3M1304.7 337.6L1309.6 340.5M1297.9 347.0L1294.5 355.1L1287.7 359.9L1282.0 363.6L1279.1 362.3M1287.7 359.9L1288.8 364.0L1282.5 366.3L1285.4 369.6L1284.0 371.3L1280.0 373.9L1276.9 373.2M1288.8 364.0L1292.2 365.0L1297.1 367.6L1304.4 373.9L1309.6 374.2L1313.0 376.2L1315.0 376.2M1304.7 346.7L1306.4 350.9L1308.4 354.1L1307.0 357.9L1308.4 361.3L1313.0 363.6L1313.0 368.0L1315.5 371.6M1278.6 360.6L1278.3 363.3L1278.3 366.3L1276.9 372.9M1274.6 367.0L1276.6 372.9M1277.1 360.9L1279.1 359.9L1281.4 357.2L1279.7 355.8M1299.0 413.5L1300.7 410.2L1303.9 410.5L1310.1 410.8L1312.4 411.7L1316.7 406.9L1325.2 405.7L1333.7 402.7L1335.7 396.6L1334.3 394.5L1326.9 393.9L1324.1 389.8M1325.2 405.7L1328.3 412.9M1334.3 394.5L1336.6 390.1L1337.7 387.6M1330.6 346.3L1336.6 343.4L1340.3 343.8L1346.0 345.6L1351.4 348.8L1351.1 353.4L1349.4 358.9L1350.5 366.3L1353.1 366.6L1350.5 371.9L1353.4 376.2L1355.9 380.3L1357.4 381.9L1352.5 386.7M1350.5 371.9L1355.1 373.2L1359.6 373.2L1365.9 371.6L1366.2 368.3L1371.3 365.3L1374.4 365.0L1375.0 360.9L1377.3 359.9L1379.5 356.8L1381.0 353.7L1380.7 349.9L1387.2 347.7L1390.3 346.7M1351.4 352.3L1355.1 353.4L1360.8 349.9L1363.9 346.3L1370.2 346.7L1374.4 347.0L1377.0 345.2L1380.4 344.1L1381.0 348.4L1390.3 346.7M1316.7 310.6L1311.0 303.9L1309.9 302.6L1311.0 296.5L1315.5 293.4L1321.8 288.4L1329.2 289.3L1333.7 292.1L1344.0 291.6L1351.9 292.5L1350.8 285.7L1350.8 278.1L1356.5 276.6L1362.8 276.1L1371.3 272.7L1378.7 271.2L1379.5 276.6L1386.1 278.1L1394.9 276.6L1398.9 280.9L1404.9 292.5L1414.5 291.6L1419.9 297.8L1425.6 299.6M1425.6 299.6L1421.4 303.1L1421.1 308.1L1413.4 308.1L1411.4 315.1L1405.1 317.2L1406.3 325.1L1405.4 328.2M1405.4 328.2L1402.0 325.8L1392.9 325.5L1386.4 327.0L1379.3 327.8L1377.5 330.8L1372.4 333.9L1367.0 332.0L1366.5 328.9L1365.0 327.4L1361.9 322.3L1351.1 320.0L1343.7 314.7L1336.6 317.2L1336.6 331.6L1334.9 331.6L1332.9 328.9L1326.6 329.7M1336.6 331.6L1339.4 331.6L1344.0 326.2L1348.0 328.2L1353.4 332.3L1355.1 336.5L1360.5 340.5L1366.5 343.8L1366.5 345.9L1370.2 346.7M1405.4 328.2L1399.2 332.7L1395.8 333.1L1390.1 335.0L1387.2 338.3L1386.9 342.3L1390.3 346.7M1377.5 330.8L1380.7 335.3L1386.7 338.3M1370.2 346.7L1370.7 340.5L1374.4 335.7L1377.8 335.7L1377.5 330.8M1427.0 299.6L1433.3 296.1L1440.4 292.5L1447.5 296.1L1454.6 297.0L1458.6 286.6L1468.0 290.3L1468.3 293.4L1476.0 294.3L1481.7 297.4M1427.0 299.6L1434.7 306.9L1436.1 316.4L1448.7 320.0L1451.5 326.2L1461.7 326.6L1474.5 329.3L1481.7 327.4M1390.3 346.7L1393.5 351.6L1399.2 352.7L1402.0 356.8L1401.4 361.3L1402.0 363.3L1401.2 366.3L1407.7 370.6L1416.2 374.9L1421.9 377.8L1427.9 378.1M1405.1 375.2L1414.2 379.7L1419.1 381.9L1427.9 382.9L1427.9 378.1M1371.3 391.4L1376.4 389.8L1379.3 389.2L1378.4 385.1L1377.0 382.6L1375.3 380.3L1378.4 378.4L1382.1 377.1L1384.9 371.6L1387.5 370.0L1389.5 367.6L1389.2 364.6L1391.5 363.6L1387.8 360.6L1387.5 355.4L1396.3 354.4L1398.6 352.7M1427.9 378.1L1429.9 380.0L1432.4 377.1L1438.1 378.4L1444.7 373.6L1450.4 373.2L1454.1 377.1M1429.9 380.0L1432.7 381.9L1439.3 381.3L1438.1 378.4M1430.2 396.6L1429.9 389.8L1427.9 385.1L1429.0 382.9L1432.7 384.2L1432.7 386.4L1440.1 387.3L1436.7 390.4L1436.7 392.6L1439.8 391.4L1440.7 398.8L1439.8 400.6M1440.7 396.9L1442.7 390.4L1446.7 386.1L1448.1 382.3L1453.2 380.7L1454.1 377.1M1454.1 377.1L1458.0 379.1L1458.0 384.5L1454.6 388.3L1458.6 390.1L1458.6 392.9L1460.6 396.3L1464.9 397.2M1462.0 401.8L1458.3 403.3L1455.5 406.9L1455.5 410.2L1458.0 413.8L1456.6 417.3L1459.2 421.2L1460.3 427.6L1458.0 431.6M1464.9 397.2L1462.0 401.8L1463.5 404.2L1465.4 404.2L1464.6 409.9L1467.7 408.1L1471.1 407.5L1475.1 410.5L1475.4 413.5L1477.7 415.9L1476.5 419.7L1470.6 419.7L1468.6 421.7L1470.0 427.3M1462.0 442.6L1464.9 444.6L1467.7 443.1M1464.9 397.2L1468.0 395.4L1470.3 397.2L1474.5 394.2L1478.8 393.9M1464.9 397.2L1466.9 399.1L1470.0 397.5L1473.4 400.0L1475.7 403.3L1473.1 405.1L1476.5 407.5L1480.2 411.7" fill="none" stroke="#3b3b3b" stroke-width=".8" stroke-linejoin="round"/><text x="903.6" y="303.6" text-anchor="middle" font-family="Liberation Sans, sans-serif" font-weight="bold" font-size="13.6" letter-spacing="1.2" fill="#707070" stroke="#161616" stroke-width="1.6" stroke-opacity=".6" paint-order="stroke" stroke-linejoin="round">NORTH</text><text x="903.675" y="320.8" text-anchor="middle" font-family="Liberation Sans, sans-serif" font-weight="bold" font-size="13.6" letter-spacing="1.35" fill="#707070" stroke="#161616" stroke-width="1.6" stroke-opacity=".6" paint-order="stroke" stroke-linejoin="round">AMERICA</text><text x="1004.1" y="497.6" text-anchor="middle" font-family="Liberation Sans, sans-serif" font-weight="bold" font-size="13.6" letter-spacing="1.2" fill="#707070" stroke="#161616" stroke-width="1.6" stroke-opacity=".6" paint-order="stroke" stroke-linejoin="round">SOUTH</text><text x="1004.175" y="514.6" text-anchor="middle" font-family="Liberation Sans, sans-serif" font-weight="bold" font-size="13.6" letter-spacing="1.35" fill="#707070" stroke="#161616" stroke-width="1.6" stroke-opacity=".6" paint-order="stroke" stroke-linejoin="round">AMERICA</text><text x="1206.1" y="323" text-anchor="middle" font-family="Liberation Sans, sans-serif" font-weight="bold" font-size="13.6" letter-spacing="1.2" fill="#707070" stroke="#161616" stroke-width="1.6" stroke-opacity=".6" paint-order="stroke" stroke-linejoin="round">EUROPE</text><text x="1252.0" y="467.4" text-anchor="middle" font-family="Liberation Sans, sans-serif" font-weight="bold" font-size="13.6" letter-spacing="1.0" fill="#707070" stroke="#161616" stroke-width="1.6" stroke-opacity=".6" paint-order="stroke" stroke-linejoin="round">AFRICA</text><text x="1420.1499999999999" y="314.4" text-anchor="middle" font-family="Liberation Sans, sans-serif" font-weight="bold" font-size="13.6" letter-spacing="1.1" fill="#707070" stroke="#161616" stroke-width="1.6" stroke-opacity=".6" paint-order="stroke" stroke-linejoin="round">ASIA</text><text x="1068.525" y="419.4" text-anchor="middle" font-family="Liberation Sans, sans-serif" font-weight="bold" font-style="italic" font-size="14" letter-spacing="2.05" fill="#646464" stroke="#1e1e1e" stroke-width="2.2" paint-order="stroke" stroke-linejoin="round">Atlantic</text><text x="1069.025" y="434.6" text-anchor="middle" font-family="Liberation Sans, sans-serif" font-weight="bold" font-style="italic" font-size="14" letter-spacing="2.05" fill="#646464" stroke="#1e1e1e" stroke-width="2.2" paint-order="stroke" stroke-linejoin="round">Ocean</text><text x="1377.025" y="488.4" text-anchor="middle" font-family="Liberation Sans, sans-serif" font-weight="bold" font-style="italic" font-size="14" letter-spacing="2.05" fill="#646464" stroke="#1e1e1e" stroke-width="2.2" paint-order="stroke" stroke-linejoin="round">Indian</text><text x="1377.025" y="503.4" text-anchor="middle" font-family="Liberation Sans, sans-serif" font-weight="bold" font-style="italic" font-size="14" letter-spacing="2.05" fill="#646464" stroke="#1e1e1e" stroke-width="2.2" paint-order="stroke" stroke-linejoin="round">Ocean</text><circle cx="1230" cy="245.9" r="3" fill="#73D573" fill-opacity=".45" stroke="#76d276" stroke-width="3"/><circle cx="1167" cy="270.8" r="3" fill="#73D573" fill-opacity=".45" stroke="#76d276" stroke-width="3"/><circle cx="1153.9" cy="280.9" r="3" fill="#73D573" fill-opacity=".45" stroke="#76d276" stroke-width="3"/><circle cx="1183" cy="311.8" r="3" fill="#73D573" fill-opacity=".45" stroke="#76d276" stroke-width="3"/><circle cx="1200" cy="309.8" r="3" fill="#73D573" fill-opacity=".45" stroke="#76d276" stroke-width="3"/><circle cx="1218" cy="306.8" r="3" fill="#73D573" fill-opacity=".45" stroke="#76d276" stroke-width="3"/><circle cx="1166" cy="334.9" r="3" fill="#73D573" fill-opacity=".45" stroke="#76d276" stroke-width="3"/><circle cx="1018" cy="559" r="3" fill="#73D573" fill-opacity=".45" stroke="#76d276" stroke-width="3"/><circle cx="1242" cy="552" r="3" fill="#73D573" fill-opacity=".45" stroke="#76d276" stroke-width="3"/><circle cx="1472.3" cy="457" r="3" fill="#73D573" fill-opacity=".45" stroke="#76d276" stroke-width="3"/><circle cx="1477.5" cy="237" r="3" fill="#73D573" fill-opacity=".45" stroke="#76d276" stroke-width="3"/><circle cx="1191.4" cy="286.8" r="7.2" fill="#9b44c5" fill-opacity="0.55" stroke="#a347c9" stroke-width="2.8"/><circle cx="1207.3" cy="291.1" r="7.4" fill="#9b44c5" fill-opacity="0.5" stroke="#a347c9" stroke-width="2.8"/><circle cx="905.1" cy="346.9" r="15.1" fill="#9b44c5" fill-opacity="0.5" stroke="#a347c9" stroke-width="2.8"/></svg><div class="abs" style="left:897px;top:137px;width:30px;height:60px;background:#fff;border-radius:3px;box-shadow:0 0 0 1.5px rgba(0,0,0,.55),0 1px 5px rgba(0,0,0,.65)"></div><div class="abs" style="left:897px;top:166px;width:30px;height:1px;background:#ccc"></div><div class="abs" style="left:907px;top:150.9px;width:11.8px;height:2.6px;background:#000"></div><div class="abs" style="left:911.3px;top:146.5px;width:2.7px;height:11.4px;background:#000"></div><div class="abs" style="left:907px;top:180.8px;width:11.8px;height:2.7px;background:#000"></div><div class="abs" style="left:895px;top:593px;width:74px;height:66px;background:rgba(255,255,255,.85);border-radius:5px;box-shadow:0 0 15px rgba(0,0,0,.2)"></div><div class="abs" style="left:903px;top:599px;width:18px;height:18px;background:#8fc98d"></div><div class="t" style="left:929.2px;top:600.3px;font-size:14px;line-height:16px;color:#555">&lt; 4</div><div class="abs" style="left:903px;top:617px;width:18px;height:18px;background:#e8a46b"></div><div class="t" style="left:929.2px;top:618.4px;font-size:14px;line-height:16px;color:#555">4–10</div><div class="abs" style="left:903px;top:635px;width:18px;height:18px;background:#a468c0"></div><div class="t" style="left:929.2px;top:636.5px;font-size:14px;line-height:16px;color:#555">10+</div><div class="abs" style="left:1282px;top:653px;width:195px;height:16px;background:rgba(255,255,255,.7)"></div><div class="t" style="left:1287.4px;top:654.2px;font-size:10.85px;line-height:12px;color:#333"><span style="color:#0078A8">Leaflet</span> | © <span style="color:#0078A8">OpenStreetMap</span> © <span style="color:#0078A8">CartoDB</span></div>
<div class="panel" style="left:9px;top:408px;width:857px;height:270px"><div class="ptitle" style="top:7px">Flowthroughput</div><svg class="rz" style="right:1px;bottom:2px" width="6" height="6" viewBox="0 0 6 6"><path d="M3.6 0H6V6H0V3.6H3.6Z" fill="#555558"/></svg></div><svg style="left:0;top:0" width="1485" height="957" viewBox="0 0 1485 957"><rect x="72" y="454" width="771" height="1" fill="#4b4b4e"/><rect x="72" y="501" width="771" height="1" fill="#4b4b4e"/><rect x="72" y="548" width="771" height="1" fill="#4b4b4e"/><rect x="72" y="595" width="771" height="1" fill="#4b4b4e"/><rect x="99" y="454" width="1" height="142" fill="#4b4b4e"/><rect x="163" y="454" width="1" height="142" fill="#4b4b4e"/><rect x="227" y="454" width="1" height="142" fill="#4b4b4e"/><rect x="291" y="454" width="1" height="142" fill="#4b4b4e"/><rect x="356" y="454" width="1" height="142" fill="#4b4b4e"/><rect x="420" y="454" width="1" height="142" fill="#4b4b4e"/><rect x="484" y="454" width="1" height="142" fill="#4b4b4e"/><rect x="548" y="454" width="1" height="142" fill="#4b4b4e"/><rect x="612" y="454" width="1" height="142" fill="#4b4b4e"/><rect x="676" y="454" width="1" height="142" fill="#4b4b4e"/><rect x="741" y="454" width="1" height="142" fill="#4b4b4e"/><rect x="805" y="454" width="1" height="142" fill="#4b4b4e"/><path d="M75.2 594.8L77.3 594.8L79.5 594.8L81.6 594.8L83.8 594.8L85.9 594.8L88.0 594.8L90.2 594.8L92.3 594.8L94.5 594.8L96.6 594.8L98.7 594.8L100.9 594.8L103.0 594.8L105.1 594.8L107.3 594.8L109.4 594.8L111.6 594.6L113.7 594.5L115.8 594.6L118.0 594.5L120.1 594.5L122.3 594.6L124.4 594.6L126.5 594.5L128.7 594.6L130.8 594.6L133.0 594.5L135.1 594.5L137.2 594.5L139.4 594.5L141.5 594.5L143.6 594.6L145.8 594.5L147.9 594.5L150.1 594.5L152.2 594.5L154.3 594.5L156.5 594.6L158.6 594.5L160.8 594.5L162.9 594.6L165.0 594.6L167.2 594.5L169.3 594.5L171.5 594.5L173.6 594.5L175.7 594.5L177.9 594.5L180.0 594.6L182.2 594.5L184.3 594.5L186.4 594.5L188.6 594.5L190.7 594.6L192.8 594.6L195.0 594.6L197.1 594.5L199.3 594.5L201.4 594.5L203.5 594.6L205.7 594.5L207.8 594.6L210.0 594.6L212.1 594.5L214.2 594.5L216.4 594.5L218.5 594.5L220.7 594.5L222.8 594.5L224.9 594.5L227.1 594.5L229.2 594.6L231.3 594.5L233.5 594.5L235.6 594.5L237.8 594.5L239.9 594.5L242.0 594.6L244.2 594.5L246.3 594.5L248.5 594.6L250.6 594.6L252.7 594.5L254.9 594.5L257.0 594.6L259.2 594.5L261.3 594.6L263.4 594.6L265.6 594.6L267.7 594.5L269.8 594.5L272.0 594.6L274.1 594.5L276.3 594.6L278.4 594.5L280.5 594.6L282.7 594.5L284.8 594.5L287.0 594.5L289.1 594.5L291.2 594.6L293.4 594.6L295.5 594.5L297.7 594.6L299.8 594.6L301.9 594.6L304.1 594.5L306.2 594.6L308.4 594.6L310.5 594.5L312.6 594.6L314.8 594.5L316.9 594.5L319.0 594.6L321.2 594.5L323.3 594.5L325.5 594.5L328.0 594.6L330.5 593.4L333.0 594.6L334.0 594.5L336.2 594.5L338.3 594.6L340.4 594.5L342.6 594.6L344.7 594.6L346.9 594.5L349.0 594.5L351.1 594.5L353.3 594.6L355.4 594.6L357.5 594.5L359.7 594.6L361.8 594.5L364.0 594.5L366.1 594.6L368.2 594.5L370.4 594.5L372.5 594.5L374.7 594.6L376.8 594.5L378.9 594.5L381.1 594.6L383.2 594.6L385.4 594.5L387.5 594.5L389.6 594.6L391.8 594.5L393.9 594.5L396.1 594.6L398.2 594.6L400.3 594.6L402.5 594.6L404.6 594.5L406.7 594.6L408.9 594.6L411.0 594.5L413.2 594.6L415.3 594.5L417.4 594.5L419.6 594.6L421.7 594.6L423.9 594.5L426.0 594.6L428.1 594.6L430.3 594.5L432.4 594.5L434.6 594.6L436.7 594.6L438.8 594.6L441.0 594.5L443.1 594.5L445.2 594.5L447.4 594.6L449.5 594.6L451.7 594.5L453.8 594.5L455.9 594.5L458.1 594.6L460.2 594.6L463.0 594.7L465.5 593.8L468.0 594.7L470.9 594.6L473.1 594.8L475.2 594.8L477.3 594.8L479.5 594.8L481.6 594.8L483.7 594.8L485.9 594.8L488.0 594.8L490.2 594.8L492.3 594.8L494.4 594.8L496.6 594.8L498.7 594.8L500.9 594.8L503.0 594.8L505.1 594.8L507.3 594.8L509.4 594.8L511.6 594.8L513.7 594.8L515.8 594.8L518.0 594.8L520.1 594.8L522.3 594.8L524.4 594.8L526.5 594.8L528.7 594.8L530.8 594.8L532.9 594.8L535.1 594.8L537.2 594.8L539.4 594.8L541.5 594.8L543.6 594.8L545.8 594.8L547.9 594.8L550.1 594.8L552.2 594.8L554.3 594.8L556.5 594.8L558.6 594.8L560.8 594.8L562.9 594.8L565.0 594.8L567.2 594.8L569.3 594.8L571.4 594.8L573.6 594.8L575.7 594.8L577.9 594.8L580.0 594.8L582.1 594.8L584.3 594.8L586.4 594.8L588.6 594.8L590.7 594.8L592.8 594.8L595.0 594.8L597.1 594.8L599.3 594.8L601.4 594.8L603.5 594.8L605.7 594.8L607.8 594.8L610.0 594.8L612.1 594.8L614.2 594.8L616.4 594.8L618.5 594.8L620.6 594.8L622.8 594.8L624.9 594.8L627.1 594.8L629.2 594.8L631.3 594.8L633.5 594.8L635.6 594.8L637.8 594.8L639.9 594.8L642.0 594.8L644.2 594.8L646.3 594.8L648.5 594.8L650.6 594.8L652.7 594.8L654.9 594.8L657.0 594.6L659.1 594.5L661.3 594.5L663.4 594.5L665.6 594.6L667.7 594.6L669.8 594.6L672.0 594.5L674.1 594.6L676.3 594.6L678.4 594.6L680.5 594.6L682.7 594.6L684.8 594.5L687.0 594.6L689.1 594.6L691.2 594.5L693.4 594.5L695.5 594.5L698.0 594.7L700.5 593.4L703.0 594.7L704.1 594.6L706.2 594.5L708.3 594.5L710.5 594.5L712.6 594.5L714.8 594.6L716.9 594.6L719.0 594.6L721.2 594.6L723.3 594.5L725.5 594.6L727.6 594.5L729.7 594.6L731.9 594.5L734.0 594.5L736.2 594.5L738.3 594.5L740.0 594.7L743.0 593.6L746.0 594.7L746.8 594.5L749.0 594.6L751.1 594.6L753.3 594.5L755.4 594.5L757.5 594.6L759.7 594.5L761.8 594.5L764.0 594.6L766.1 594.6L768.2 594.5L770.4 594.5L772.5 594.5L774.7 594.6L776.8 594.6L778.9 594.5L781.1 594.5L783.2 594.6L785.3 594.5L787.5 594.5L789.6 594.5L791.8 594.5L793.9 594.6L796.0 594.5L798.2 594.5L800.3 594.6L802.5 594.6L804.6 594.6L806.7 594.5L808.9 594.6L811.0 594.5L813.2 594.5L815.3 594.6L815.3 595L75.2 595Z" fill="#7EB26D" fill-opacity="0.1"/><path d="M75.2 594.8L77.3 594.8L79.5 594.8L81.6 594.8L83.8 594.8L85.9 594.8L88.0 594.8L90.2 594.8L92.3 594.8L94.5 594.8L96.6 594.8L98.7 594.8L100.9 594.8L103.0 594.8L105.1 594.8L107.3 594.8L109.4 594.8L111.6 594.6L113.7 594.5L115.8 594.6L118.0 594.5L120.1 594.5L122.3 594.6L124.4 594.6L126.5 594.5L128.7 594.6L130.8 594.6L133.0 594.5L135.1 594.5L137.2 594.5L139.4 594.5L141.5 594.5L143.6 594.6L145.8 594.5L147.9 594.5L150.1 594.5L152.2 594.5L154.3 594.5L156.5 594.6L158.6 594.5L160.8 594.5L162.9 594.6L165.0 594.6L167.2 594.5L169.3 594.5L171.5 594.5L173.6 594.5L175.7 594.5L177.9 594.5L180.0 594.6L182.2 594.5L184.3 594.5L186.4 594.5L188.6 594.5L190.7 594.6L192.8 594.6L195.0 594.6L197.1 594.5L199.3 594.5L201.4 594.5L203.5 594.6L205.7 594.5L207.8 594.6L210.0 594.6L212.1 594.5L214.2 594.5L216.4 594.5L218.5 594.5L220.7 594.5L222.8 594.5L224.9 594.5L227.1 594.5L229.2 594.6L231.3 594.5L233.5 594.5L235.6 594.5L237.8 594.5L239.9 594.5L242.0 594.6L244.2 594.5L246.3 594.5L248.5 594.6L250.6 594.6L252.7 594.5L254.9 594.5L257.0 594.6L259.2 594.5L261.3 594.6L263.4 594.6L265.6 594.6L267.7 594.5L269.8 594.5L272.0 594.6L274.1 594.5L276.3 594.6L278.4 594.5L280.5 594.6L282.7 594.5L284.8 594.5L287.0 594.5L289.1 594.5L291.2 594.6L293.4 594.6L295.5 594.5L297.7 594.6L299.8 594.6L301.9 594.6L304.1 594.5L306.2 594.6L308.4 594.6L310.5 594.5L312.6 594.6L314.8 594.5L316.9 594.5L319.0 594.6L321.2 594.5L323.3 594.5L325.5 594.5L328.0 594.6L330.5 593.4L333.0 594.6L334.0 594.5L336.2 594.5L338.3 594.6L340.4 594.5L342.6 594.6L344.7 594.6L346.9 594.5L349.0 594.5L351.1 594.5L353.3 594.6L355.4 594.6L357.5 594.5L359.7 594.6L361.8 594.5L364.0 594.5L366.1 594.6L368.2 594.5L370.4 594.5L372.5 594.5L374.7 594.6L376.8 594.5L378.9 594.5L381.1 594.6L383.2 594.6L385.4 594.5L387.5 594.5L389.6 594.6L391.8 594.5L393.9 594.5L396.1 594.6L398.2 594.6L400.3 594.6L402.5 594.6L404.6 594.5L406.7 594.6L408.9 594.6L411.0 594.5L413.2 594.6L415.3 594.5L417.4 594.5L419.6 594.6L421.7 594.6L423.9 594.5L426.0 594.6L428.1 594.6L430.3 594.5L432.4 594.5L434.6 594.6L436.7 594.6L438.8 594.6L441.0 594.5L443.1 594.5L445.2 594.5L447.4 594.6L449.5 594.6L451.7 594.5L453.8 594.5L455.9 594.5L458.1 594.6L460.2 594.6L463.0 594.7L465.5 593.8L468.0 594.7L470.9 594.6L473.1 594.8L475.2 594.8L477.3 594.8L479.5 594.8L481.6 594.8L483.7 594.8L485.9 594.8L488.0 594.8L490.2 594.8L492.3 594.8L494.4 594.8L496.6 594.8L498.7 594.8L500.9 594.8L503.0 594.8L505.1 594.8L507.3 594.8L509.4 594.8L511.6 594.8L513.7 594.8L515.8 594.8L518.0 594.8L520.1 594.8L522.3 594.8L524.4 594.8L526.5 594.8L528.7 594.8L530.8 594.8L532.9 594.8L535.1 594.8L537.2 594.8L539.4 594.8L541.5 594.8L543.6 594.8L545.8 594.8L547.9 594.8L550.1 594.8L552.2 594.8L554.3 594.8L556.5 594.8L558.6 594.8L560.8 594.8L562.9 594.8L565.0 594.8L567.2 594.8L569.3 594.8L571.4 594.8L573.6 594.8L575.7 594.8L577.9 594.8L580.0 594.8L582.1 594.8L584.3 594.8L586.4 594.8L588.6 594.8L590.7 594.8L592.8 594.8L595.0 594.8L597.1 594.8L599.3 594.8L601.4 594.8L603.5 594.8L605.7 594.8L607.8 594.8L610.0 594.8L612.1 594.8L614.2 594.8L616.4 594.8L618.5 594.8L620.6 594.8L622.8 594.8L624.9 594.8L627.1 594.8L629.2 594.8L631.3 594.8L633.5 594.8L635.6 594.8L637.8 594.8L639.9 594.8L642.0 594.8L644.2 594.8L646.3 594.8L648.5 594.8L650.6 594.8L652.7 594.8L654.9 594.8L657.0 594.6L659.1 594.5L661.3 594.5L663.4 594.5L665.6 594.6L667.7 594.6L669.8 594.6L672.0 594.5L674.1 594.6L676.3 594.6L678.4 594.6L680.5 594.6L682.7 594.6L684.8 594.5L687.0 594.6L689.1 594.6L691.2 594.5L693.4 594.5L695.5 594.5L698.0 594.7L700.5 593.4L703.0 594.7L704.1 594.6L706.2 594.5L708.3 594.5L710.5 594.5L712.6 594.5L714.8 594.6L716.9 594.6L719.0 594.6L721.2 594.6L723.3 594.5L725.5 594.6L727.6 594.5L729.7 594.6L731.9 594.5L734.0 594.5L736.2 594.5L738.3 594.5L740.0 594.7L743.0 593.6L746.0 594.7L746.8 594.5L749.0 594.6L751.1 594.6L753.3 594.5L755.4 594.5L757.5 594.6L759.7 594.5L761.8 594.5L764.0 594.6L766.1 594.6L768.2 594.5L770.4 594.5L772.5 594.5L774.7 594.6L776.8 594.6L778.9 594.5L781.1 594.5L783.2 594.6L785.3 594.5L787.5 594.5L789.6 594.5L791.8 594.5L793.9 594.6L796.0 594.5L798.2 594.5L800.3 594.6L802.5 594.6L804.6 594.6L806.7 594.5L808.9 594.6L811.0 594.5L813.2 594.5L815.3 594.6" fill="none" stroke="#7EB26D" stroke-width="1" stroke-linejoin="round" /><path d="M75.2 594.8L77.3 594.8L79.5 594.8L81.6 594.8L83.8 594.8L85.9 594.8L88.0 594.8L90.2 594.8L92.3 594.8L94.5 594.8L96.6 594.8L98.7 594.8L100.9 594.8L103.0 594.8L105.1 594.8L107.3 594.8L109.4 594.8L111.6 594.4L112.5 594.4L115.9 591.4L118.5 592.4L121.0 592.2L124.0 591.4L126.5 594.2L128.7 594.6L130.8 594.2L133.0 594.6L135.1 594.6L137.2 594.2L139.4 593.2L140.5 594.4L143.6 589.2L146.0 594.1L147.9 592.8L150.1 593.9L152.2 594.3L154.3 592.7L156.5 594.6L158.6 593.1L160.8 594.4L162.9 594.6L165.0 594.0L169.5 584.0L172.2 593.8L175.0 590.6L178.0 589.6L181.5 591.4L184.7 585.4L186.5 592.5L189.0 591.4L192.0 594.2L192.8 594.4L195.0 593.9L197.1 594.2L199.3 594.4L201.4 593.4L204.0 594.4L206.5 592.0L209.0 594.4L210.0 594.1L212.1 593.1L214.2 593.5L216.4 594.4L218.5 592.7L220.7 594.6L222.8 594.3L224.9 593.5L227.1 594.6L229.2 594.1L231.3 594.6L233.5 593.7L235.6 593.4L237.8 593.9L240.0 594.3L243.0 592.0L246.0 594.2L248.5 593.9L250.6 594.2L252.7 593.2L254.9 592.8L257.0 594.2L259.2 593.7L261.3 594.6L263.4 593.6L265.6 593.8L267.7 592.6L269.8 593.3L272.0 594.4L274.1 594.3L276.3 593.7L278.4 594.6L280.5 594.2L282.7 594.5L284.8 594.6L286.5 594.2L287.5 592.4L289.0 594.4L291.2 594.6L293.4 594.5L295.5 594.3L297.7 593.1L298.5 594.2L302.0 589.8L305.0 591.8L308.0 592.6L310.8 589.4L313.0 593.8L315.0 590.4L318.5 594.1L321.0 593.6L324.0 590.8L326.1 594.2L330.3 569.6L333.5 587.0L335.9 594.0L338.3 594.6L340.4 594.3L342.6 594.3L344.7 594.0L346.9 592.8L349.0 593.7L351.1 594.1L353.0 594.3L357.0 591.8L360.0 594.3L361.8 593.4L364.0 593.1L366.1 593.3L368.2 594.3L370.4 594.3L372.5 594.6L374.7 593.8L376.8 594.6L379.2 594.1L382.5 573.0L383.6 563.2L385.7 564.4L388.1 552.4L390.5 563.0L392.5 585.0L394.4 593.8L396.1 594.3L398.2 594.6L400.3 593.1L401.2 594.2L406.0 586.6L410.5 594.1L413.2 594.6L415.3 593.2L417.4 592.6L419.6 594.2L422.2 594.2L424.4 588.2L426.8 594.2L428.1 594.4L430.3 594.5L432.4 593.2L434.6 594.5L437.0 594.2L439.2 588.8L442.0 591.0L445.7 594.1L447.4 594.6L449.5 594.0L451.7 592.7L453.8 593.1L455.9 593.6L458.5 594.2L460.6 587.4L462.4 594.0L463.4 592.0L464.4 535.0L465.2 498.6L466.3 505.0L467.1 507.4L468.4 555.0L469.5 590.0L470.6 594.0L473.1 594.8L475.2 594.8L477.3 594.8L479.5 594.8L481.6 594.8L483.7 594.8L485.9 594.8L488.0 594.8L490.2 594.8L492.3 594.8L494.4 594.8L496.6 594.8L498.7 594.8L500.9 594.8L503.0 594.8L505.1 594.8L507.3 594.8L509.4 594.8L511.6 594.8L513.7 594.8L515.8 594.8L518.0 594.8L520.1 594.8L522.3 594.8L524.4 594.8L526.5 594.8L528.7 594.8L530.8 594.8L532.9 594.8L535.1 594.8L537.2 594.8L539.4 594.8L541.5 594.8L543.6 594.8L545.8 594.8L547.9 594.8L550.1 594.8L552.2 594.8L554.3 594.8L556.5 594.8L558.6 594.8L560.8 594.8L562.9 594.8L565.0 594.8L567.2 594.8L569.3 594.8L571.4 594.8L573.6 594.8L575.7 594.8L577.9 594.8L580.0 594.8L582.1 594.8L584.3 594.8L586.4 594.8L588.6 594.8L590.7 594.8L592.8 594.8L595.0 594.8L597.1 594.8L599.3 594.8L601.4 594.8L603.5 594.8L605.7 594.8L607.8 594.8L610.0 594.8L612.1 594.8L614.2 594.8L616.4 594.8L618.5 594.8L620.6 594.8L622.8 594.8L624.9 594.8L627.1 594.8L629.2 594.8L631.3 594.8L633.5 594.8L635.6 594.8L637.8 594.8L639.9 594.8L642.0 594.8L644.2 594.8L646.3 594.8L648.5 594.8L650.6 594.8L652.7 594.8L654.9 594.8L657.5 594.4L659.8 591.6L662.0 594.2L664.4 589.8L667.0 594.2L670.7 592.0L673.0 594.2L674.1 594.1L676.3 594.3L678.4 594.6L680.5 594.6L682.7 594.4L684.0 594.4L685.7 592.6L687.5 594.4L689.8 594.2L692.2 585.4L694.6 594.1L696.3 593.8L698.4 533.0L700.2 493.4L701.2 493.8L703.2 565.0L705.4 594.0L706.2 594.5L708.3 594.5L710.5 594.2L713.6 590.4L716.5 594.2L719.0 593.8L721.2 593.3L723.3 594.6L725.5 593.7L727.6 593.0L729.7 593.4L731.0 594.3L733.4 592.0L735.0 592.8L737.5 585.0L739.5 575.6L740.8 535.0L742.1 509.2L743.4 505.6L744.6 545.0L745.6 587.0L746.8 593.6L749.0 594.3L751.1 592.8L753.3 593.6L755.4 594.5L757.5 594.6L759.7 594.6L761.8 593.0L764.0 593.3L766.1 594.6L768.2 593.2L770.4 592.7L772.5 593.7L774.7 594.4L776.8 594.0L777.8 594.2L780.1 586.4L782.4 594.2L783.2 592.7L785.3 593.8L787.5 594.1L789.6 592.9L791.8 594.2L793.9 593.1L796.0 593.2L798.2 594.5L800.3 594.5L802.5 594.4L804.6 594.5L807.0 594.3L810.0 591.4L813.0 594.3L815.3 593.0L815.3 595L75.2 595Z" fill="#EAB839" fill-opacity="0.1"/><path d="M75.2 594.8L77.3 594.8L79.5 594.8L81.6 594.8L83.8 594.8L85.9 594.8L88.0 594.8L90.2 594.8L92.3 594.8L94.5 594.8L96.6 594.8L98.7 594.8L100.9 594.8L103.0 594.8L105.1 594.8L107.3 594.8L109.4 594.8L111.6 594.4L112.5 594.4L115.9 591.4L118.5 592.4L121.0 592.2L124.0 591.4L126.5 594.2L128.7 594.6L130.8 594.2L133.0 594.6L135.1 594.6L137.2 594.2L139.4 593.2L140.5 594.4L143.6 589.2L146.0 594.1L147.9 592.8L150.1 593.9L152.2 594.3L154.3 592.7L156.5 594.6L158.6 593.1L160.8 594.4L162.9 594.6L165.0 594.0L169.5 584.0L172.2 593.8L175.0 590.6L178.0 589.6L181.5 591.4L184.7 585.4L186.5 592.5L189.0 591.4L192.0 594.2L192.8 594.4L195.0 593.9L197.1 594.2L199.3 594.4L201.4 593.4L204.0 594.4L206.5 592.0L209.0 594.4L210.0 594.1L212.1 593.1L214.2 593.5L216.4 594.4L218.5 592.7L220.7 594.6L222.8 594.3L224.9 593.5L227.1 594.6L229.2 594.1L231.3 594.6L233.5 593.7L235.6 593.4L237.8 593.9L240.0 594.3L243.0 592.0L246.0 594.2L248.5 593.9L250.6 594.2L252.7 593.2L254.9 592.8L257.0 594.2L259.2 593.7L261.3 594.6L263.4 593.6L265.6 593.8L267.7 592.6L269.8 593.3L272.0 594.4L274.1 594.3L276.3 593.7L278.4 594.6L280.5 594.2L282.7 594.5L284.8 594.6L286.5 594.2L287.5 592.4L289.0 594.4L291.2 594.6L293.4 594.5L295.5 594.3L297.7 593.1L298.5 594.2L302.0 589.8L305.0 591.8L308.0 592.6L310.8 589.4L313.0 593.8L315.0 590.4L318.5 594.1L321.0 593.6L324.0 590.8L326.1 594.2L330.3 569.6L333.5 587.0L335.9 594.0L338.3 594.6L340.4 594.3L342.6 594.3L344.7 594.0L346.9 592.8L349.0 593.7L351.1 594.1L353.0 594.3L357.0 591.8L360.0 594.3L361.8 593.4L364.0 593.1L366.1 593.3L368.2 594.3L370.4 594.3L372.5 594.6L374.7 593.8L376.8 594.6L379.2 594.1L382.5 573.0L383.6 563.2L385.7 564.4L388.1 552.4L390.5 563.0L392.5 585.0L394.4 593.8L396.1 594.3L398.2 594.6L400.3 593.1L401.2 594.2L406.0 586.6L410.5 594.1L413.2 594.6L415.3 593.2L417.4 592.6L419.6 594.2L422.2 594.2L424.4 588.2L426.8 594.2L428.1 594.4L430.3 594.5L432.4 593.2L434.6 594.5L437.0 594.2L439.2 588.8L442.0 591.0L445.7 594.1L447.4 594.6L449.5 594.0L451.7 592.7L453.8 593.1L455.9 593.6L458.5 594.2L460.6 587.4L462.4 594.0L463.4 592.0L464.4 535.0L465.2 498.6L466.3 505.0L467.1 507.4L468.4 555.0L469.5 590.0L470.6 594.0L473.1 594.8L475.2 594.8L477.3 594.8L479.5 594.8L481.6 594.8L483.7 594.8L485.9 594.8L488.0 594.8L490.2 594.8L492.3 594.8L494.4 594.8L496.6 594.8L498.7 594.8L500.9 594.8L503.0 594.8L505.1 594.8L507.3 594.8L509.4 594.8L511.6 594.8L513.7 594.8L515.8 594.8L518.0 594.8L520.1 594.8L522.3 594.8L524.4 594.8L526.5 594.8L528.7 594.8L530.8 594.8L532.9 594.8L535.1 594.8L537.2 594.8L539.4 594.8L541.5 594.8L543.6 594.8L545.8 594.8L547.9 594.8L550.1 594.8L552.2 594.8L554.3 594.8L556.5 594.8L558.6 594.8L560.8 594.8L562.9 594.8L565.0 594.8L567.2 594.8L569.3 594.8L571.4 594.8L573.6 594.8L575.7 594.8L577.9 594.8L580.0 594.8L582.1 594.8L584.3 594.8L586.4 594.8L588.6 594.8L590.7 594.8L592.8 594.8L595.0 594.8L597.1 594.8L599.3 594.8L601.4 594.8L603.5 594.8L605.7 594.8L607.8 594.8L610.0 594.8L612.1 594.8L614.2 594.8L616.4 594.8L618.5 594.8L620.6 594.8L622.8 594.8L624.9 594.8L627.1 594.8L629.2 594.8L631.3 594.8L633.5 594.8L635.6 594.8L637.8 594.8L639.9 594.8L642.0 594.8L644.2 594.8L646.3 594.8L648.5 594.8L650.6 594.8L652.7 594.8L654.9 594.8L657.5 594.4L659.8 591.6L662.0 594.2L664.4 589.8L667.0 594.2L670.7 592.0L673.0 594.2L674.1 594.1L676.3 594.3L678.4 594.6L680.5 594.6L682.7 594.4L684.0 594.4L685.7 592.6L687.5 594.4L689.8 594.2L692.2 585.4L694.6 594.1L696.3 593.8L698.4 533.0L700.2 493.4L701.2 493.8L703.2 565.0L705.4 594.0L706.2 594.5L708.3 594.5L710.5 594.2L713.6 590.4L716.5 594.2L719.0 593.8L721.2 593.3L723.3 594.6L725.5 593.7L727.6 593.0L729.7 593.4L731.0 594.3L733.4 592.0L735.0 592.8L737.5 585.0L739.5 575.6L740.8 535.0L742.1 509.2L743.4 505.6L744.6 545.0L745.6 587.0L746.8 593.6L749.0 594.3L751.1 592.8L753.3 593.6L755.4 594.5L757.5 594.6L759.7 594.6L761.8 593.0L764.0 593.3L766.1 594.6L768.2 593.2L770.4 592.7L772.5 593.7L774.7 594.4L776.8 594.0L777.8 594.2L780.1 586.4L782.4 594.2L783.2 592.7L785.3 593.8L787.5 594.1L789.6 592.9L791.8 594.2L793.9 593.1L796.0 593.2L798.2 594.5L800.3 594.5L802.5 594.4L804.6 594.5L807.0 594.3L810.0 591.4L813.0 594.3L815.3 593.0" fill="none" stroke="#EAB839" stroke-width="1.15" stroke-linejoin="round" /></svg><div class="t" style="right:1418.8px;top:449px;font-size:10.7px;line-height:12px;color:#d0d1d2">150 Mbps</div><div class="t" style="right:1418.8px;top:496px;font-size:10.7px;line-height:12px;color:#d0d1d2">100 Mbps</div><div class="t" style="right:1418.8px;top:543px;font-size:10.7px;line-height:12px;color:#d0d1d2">50 Mbps</div><div class="t" style="right:1418.8px;top:590px;font-size:10.7px;line-height:12px;color:#d0d1d2">0 bps</div><div class="t" style="left:69.4px;width:60px;text-align:center;top:604px;font-size:10.7px;line-height:12px;color:#d0d1d2">15:30</div><div class="t" style="left:133.57px;width:60px;text-align:center;top:604px;font-size:10.7px;line-height:12px;color:#d0d1d2">16:00</div><div class="t" style="left:197.74px;width:60px;text-align:center;top:604px;font-size:10.7px;line-height:12px;color:#d0d1d2">16:30</div><div class="t" style="left:261.90999999999997px;width:60px;text-align:center;top:604px;font-size:10.7px;line-height:12px;color:#d0d1d2">17:00</div><div class="t" style="left:326.08000000000004px;width:60px;text-align:center;top:604px;font-size:10.7px;line-height:12px;color:#d0d1d2">17:30</div><div class="t" style="left:390.25px;width:60px;text-align:center;top:604px;font-size:10.7px;line-height:12px;color:#d0d1d2">18:00</div><div class="t" style="left:454.41999999999996px;width:60px;text-align:center;top:604px;font-size:10.7px;line-height:12px;color:#d0d1d2">18:30</div><div class="t" style="left:518.59px;width:60px;text-align:center;top:604px;font-size:10.7px;line-height:12px;color:#d0d1d2">19:00</div><div class="t" style="left:582.76px;width:60px;text-align:center;top:604px;font-size:10.7px;line-height:12px;color:#d0d1d2">19:30</div><div class="t" style="left:646.93px;width:60px;text-align:center;top:604px;font-size:10.7px;line-height:12px;color:#d0d1d2">20:00</div><div class="t" style="left:711.1px;width:60px;text-align:center;top:604px;font-size:10.7px;line-height:12px;color:#d0d1d2">20:30</div><div class="t" style="left:775.27px;width:60px;text-align:center;top:604px;font-size:10.7px;line-height:12px;color:#d0d1d2">21:00</div><div class="abs" style="left:28px;top:632.5px;width:11.5px;height:3.6px;border-radius:1px;background:#7EB26D"></div><div class="t" style="left:44.2px;top:628px;font-size:11.4px;line-height:12px;color:#d8d9da">local2remote</div><div class="abs" style="left:119.8px;top:632.5px;width:11.5px;height:3.6px;border-radius:1px;background:#EAB839"></div><div class="t" style="left:136px;top:628px;font-size:11.4px;line-height:12px;color:#d8d9da">remote2local</div>
<div class="panel" style="left:9px;top:688px;width:1476px;height:280px"><div class="ptitle" style="top:7px">Traffic Distribution</div></div><svg style="left:806.6px;top:701.5px" width="8" height="5" viewBox="0 0 8 5"><path d="M0 0H7.6L3.8 4.2Z" fill="#8e8e8e"/></svg><svg style="left:0;top:0" width="1485" height="957" viewBox="0 0 1485 957"><rect x="65" y="734" width="1020" height="1" fill="#4b4b4e"/><rect x="65" y="782" width="1020" height="1" fill="#4b4b4e"/><rect x="65" y="830" width="1020" height="1" fill="#4b4b4e"/><rect x="65" y="878" width="1020" height="1" fill="#4b4b4e"/><rect x="65" y="926" width="1020" height="1" fill="#4b4b4e"/><rect x="101" y="734" width="1" height="193" fill="#4b4b4e"/><rect x="186" y="734" width="1" height="193" fill="#4b4b4e"/><rect x="271" y="734" width="1" height="193" fill="#4b4b4e"/><rect x="356" y="734" width="1" height="193" fill="#4b4b4e"/><rect x="441" y="734" width="1" height="193" fill="#4b4b4e"/><rect x="526" y="734" width="1" height="193" fill="#4b4b4e"/><rect x="611" y="734" width="1" height="193" fill="#4b4b4e"/><rect x="696" y="734" width="1" height="193" fill="#4b4b4e"/><rect x="781" y="734" width="1" height="193" fill="#4b4b4e"/><rect x="865" y="734" width="1" height="193" fill="#4b4b4e"/><rect x="950" y="734" width="1" height="193" fill="#4b4b4e"/><rect x="1035" y="734" width="1" height="193" fill="#4b4b4e"/><path d="M70.3 926.5L124.6 926.5L125.2 919.5L128.7 925.0L131.0 926.5L217.8 926.5L220.3 920.5L222.8 926.5L283.0 926.5L289.0 920.0L295.0 926.5L362.0 926.5L364.0 921.5L366.0 926.5L378.9 926.5L381.9 912.5L384.9 926.5L384.8 926.5L388.0 917.5L391.2 926.5L396.2 926.5L399.0 916.0L401.8 926.5L401.9 926.5L407.3 867.0L415.5 926.5L439.0 926.5L441.4 922.5L443.8 926.5L1050.0 926.5" fill="none" stroke="#6a5a9c" stroke-width="1.1" stroke-linejoin="round" /><path d="M70.3 926.5L132.5 926.5L135.5 920.5L138.5 926.5L158.2 926.5L160.4 922.5L162.6 926.5L1050.0 926.5" fill="none" stroke="#6ED0E0" stroke-width="1.1" stroke-linejoin="round" /><path d="M70.3 926.5L156.4 926.5L160.0 917.5L163.6 926.5L480.6 926.5L483.5 913.2L486.4 926.5L505.0 926.5L507.0 923.5L509.0 926.5L846.3 926.5L849.1 913.9L851.9 926.5L854.7 926.5L857.3 919.5L859.9 926.5L869.5 926.5L871.5 924.0L873.5 926.5L874.8 926.5L877.2 922.0L879.6 926.5L1038.7 926.5L1041.6 919.0L1044.5 926.5L1050.0 926.5" fill="none" stroke="#A3480B" stroke-width="1.1" stroke-linejoin="round" /><path d="M70.3 926.5L505.2 926.5L509.0 913.5L512.8 926.5L566.5 926.5L568.5 923.5L570.5 926.5L681.4 926.5L684.8 900.0L687.8 926.5L963.0 926.5L965.0 924.5L967.0 926.5L1050.0 926.5" fill="none" stroke="#5CA84F" stroke-width="1.1" stroke-linejoin="round" /><path d="M70.3 926.5L548.5 926.5L551.8 911.5L555.1 926.5L577.0 926.5L579.9 907.5L582.8 926.5L882.8 926.5L885.5 907.0L888.2 926.5L942.7 926.5L945.0 907.5L947.3 926.5L1050.0 926.5" fill="none" stroke="#0A50A1" stroke-width="1.1" stroke-linejoin="round" /><path d="M70.3 926.5L202.0 926.5L206.5 913.9L215.7 926.5L223.0 926.5L225.0 924.0L227.0 926.5L243.0 926.5L245.0 924.5L247.0 926.5L260.0 926.5L262.0 923.5L264.0 926.5L273.0 926.5L275.0 924.0L277.0 926.5L306.0 926.5L308.0 924.0L310.0 926.5L318.0 926.5L320.0 924.0L322.0 926.5L328.0 926.5L330.0 924.0L332.0 926.5L374.2 926.5L376.6 922.5L379.0 926.5L385.0 926.5L387.0 924.0L389.0 926.5L393.6 926.5L396.0 922.0L398.4 926.5L404.4 926.5L407.0 920.5L409.6 926.5L416.8 926.5L419.0 923.5L421.2 926.5L430.9 926.5L433.9 923.7L436.9 926.5L453.0 926.5L455.0 924.5L457.0 926.5L459.0 926.5L461.0 924.5L463.0 926.5L1050.0 926.5" fill="none" stroke="#F29191" stroke-width="1.1" stroke-linejoin="round" /><path d="M70.3 926.5L189.8 926.5L194.8 899.0L198.0 926.5L212.2 926.5L215.0 905.9L218.0 926.5L243.0 926.5L245.0 923.5L247.0 926.5L263.0 926.5L265.6 921.0L268.2 926.5L348.5 926.5L350.7 923.5L352.9 926.5L359.3 926.5L361.7 922.0L364.1 926.5L367.4 926.5L370.4 917.0L373.4 926.5L442.0 926.5L444.0 924.0L446.0 926.5L472.3 926.5L475.0 886.5L478.0 845.2L480.8 849.1L483.8 831.0L486.7 842.9L488.5 881.5L490.0 911.5L492.2 926.5L503.0 926.5L506.0 921.5L509.0 926.5L529.0 926.5L531.8 910.0L535.2 926.5L555.5 926.5L557.5 924.0L559.5 926.5L582.6 926.5L585.7 772.9L590.5 926.5L840.5 926.5L843.1 917.3L845.7 926.5L891.0 926.5L896.9 751.1L903.1 926.5L911.0 926.5L913.8 917.1L916.6 926.5L937.1 926.5L939.7 921.0L942.3 926.5L945.9 926.5L950.7 772.0L955.8 926.5L999.2 926.5L1002.0 906.5L1004.8 926.5L1050.0 926.5L1050.0 926.5L70.3 926.5Z" fill="#EAB839" fill-opacity="0.035"/><path d="M70.3 926.5L189.8 926.5L194.8 899.0L198.0 926.5L212.2 926.5L215.0 905.9L218.0 926.5L243.0 926.5L245.0 923.5L247.0 926.5L263.0 926.5L265.6 921.0L268.2 926.5L348.5 926.5L350.7 923.5L352.9 926.5L359.3 926.5L361.7 922.0L364.1 926.5L367.4 926.5L370.4 917.0L373.4 926.5L442.0 926.5L444.0 924.0L446.0 926.5L472.3 926.5L475.0 886.5L478.0 845.2L480.8 849.1L483.8 831.0L486.7 842.9L488.5 881.5L490.0 911.5L492.2 926.5L503.0 926.5L506.0 921.5L509.0 926.5L529.0 926.5L531.8 910.0L535.2 926.5L555.5 926.5L557.5 924.0L559.5 926.5L582.6 926.5L585.7 772.9L590.5 926.5L840.5 926.5L843.1 917.3L845.7 926.5L891.0 926.5L896.9 751.1L903.1 926.5L911.0 926.5L913.8 917.1L916.6 926.5L937.1 926.5L939.7 921.0L942.3 926.5L945.9 926.5L950.7 772.0L955.8 926.5L999.2 926.5L1002.0 906.5L1004.8 926.5L1050.0 926.5" fill="none" stroke="#EAB839" stroke-width="1.1" stroke-linejoin="round" /><path d="M70.3 926.5L583.8 926.5L588.4 751.5L592.5 926.5L891.6 926.5L893.9 853.7L896.9 845.2L900.8 926.5L946.5 926.5L948.2 879.5L951.2 867.5L953.7 750.2L957.3 926.5L1050.0 926.5L1050.0 926.5L70.3 926.5Z" fill="#EAB839" fill-opacity="0.035"/><path d="M70.3 926.5L583.8 926.5L588.4 751.5L592.5 926.5L891.6 926.5L893.9 853.7L896.9 845.2L900.8 926.5L946.5 926.5L948.2 879.5L951.2 867.5L953.7 750.2L957.3 926.5L1050.0 926.5" fill="none" stroke="#EAB839" stroke-width="1.1" stroke-linejoin="round" /><rect x="70" y="925.75" width="980" height="2.1" fill="#e6a2c9"/><rect x="70" y="925.75" width="3.2" height="2.1" fill="#62b8d8"/><rect x="73.2" y="925.75" width="88" height="2.1" fill="#bea8de"/></svg><div class="t" style="right:1424.7px;top:729.0px;font-size:10.7px;line-height:12px;color:#d0d1d2">80 Mbps</div><div class="t" style="right:1424.7px;top:777.2px;font-size:10.7px;line-height:12px;color:#d0d1d2">60 Mbps</div><div class="t" style="right:1424.7px;top:825.4px;font-size:10.7px;line-height:12px;color:#d0d1d2">40 Mbps</div><div class="t" style="right:1424.7px;top:873.6px;font-size:10.7px;line-height:12px;color:#d0d1d2">20 Mbps</div><div class="t" style="right:1424.7px;top:921.8px;font-size:10.7px;line-height:12px;color:#d0d1d2">0 bps</div><div class="t" style="left:71.5px;width:60px;text-align:center;top:936px;font-size:10.7px;line-height:12px;color:#d0d1d2">15:30</div><div class="t" style="left:156.5px;width:60px;text-align:center;top:936px;font-size:10.7px;line-height:12px;color:#d0d1d2">16:00</div><div class="t" style="left:241.5px;width:60px;text-align:center;top:936px;font-size:10.7px;line-height:12px;color:#d0d1d2">16:30</div><div class="t" style="left:326.5px;width:60px;text-align:center;top:936px;font-size:10.7px;line-height:12px;color:#d0d1d2">17:00</div><div class="t" style="left:411.5px;width:60px;text-align:center;top:936px;font-size:10.7px;line-height:12px;color:#d0d1d2">17:30</div><div class="t" style="left:496.5px;width:60px;text-align:center;top:936px;font-size:10.7px;line-height:12px;color:#d0d1d2">18:00</div><div class="t" style="left:581.5px;width:60px;text-align:center;top:936px;font-size:10.7px;line-height:12px;color:#d0d1d2">18:30</div><div class="t" style="left:666.5px;width:60px;text-align:center;top:936px;font-size:10.7px;line-height:12px;color:#d0d1d2">19:00</div><div class="t" style="left:751.5px;width:60px;text-align:center;top:936px;font-size:10.7px;line-height:12px;color:#d0d1d2">19:30</div><div class="t" style="left:835.5px;width:60px;text-align:center;top:936px;font-size:10.7px;line-height:12px;color:#d0d1d2">20:00</div><div class="t" style="left:920.5px;width:60px;text-align:center;top:936px;font-size:10.7px;line-height:12px;color:#d0d1d2">20:30</div><div class="t" style="left:1005.5px;width:60px;text-align:center;top:936px;font-size:10.7px;line-height:12px;color:#d0d1d2">21:00</div><div class="abs" style="left:1100px;top:728px;width:385px;height:220px;overflow:hidden"><div class="t" style="right:164.29999999999995px;top:6px;line-height:12px;font-size:10.6px;font-weight:bold;color:#33B5E5">max</div><div class="t" style="right:93px;top:6px;line-height:12px;font-size:10.6px;font-weight:bold;color:#33B5E5">avg</div><div class="t" style="right:23px;top:6px;line-height:12px;font-size:10.6px;font-weight:bold;color:#33B5E5">current<svg style="position:static;margin-left:1px;margin-bottom:1.5px" width="7" height="4" viewBox="0 0 7 4"><path d="M0 0H6.6L3.3 3.6Z" fill="#33B5E5"/></svg></div><div class="abs" style="left:3.6px;top:21.80px;width:368.6px;height:24.57px;background:#262628"><div class="abs" style="left:10.6px;top:11.6px;width:11.5px;height:3.6px;border-radius:1px;background:#6a5a9c"></div><div class="t" style="left:29.2px;top:5.6px;line-height:12px;font-size:10.7px;color:#d8d9da">Unknown</div><div class="t" style="right:152.0px;top:5.6px;line-height:12px;font-size:10.9px;color:#d8d9da">24.7 Mbps</div><div class="t" style="right:81.0px;top:5.6px;line-height:12px;font-size:10.9px;color:#d8d9da">715 kbps</div><div class="t" style="right:11.0px;top:5.6px;line-height:12px;font-size:10.9px;color:#d8d9da">521 kbps</div></div><div class="abs" style="left:3.6px;top:46.37px;width:368.6px;height:24.57px;background:transparent"><div class="abs" style="left:10.6px;top:11.6px;width:11.5px;height:3.6px;border-radius:1px;background:#EAB839"></div><div class="t" style="left:29.2px;top:5.6px;line-height:12px;font-size:10.7px;color:#d8d9da">SSL</div><div class="t" style="right:152.0px;top:5.6px;line-height:12px;font-size:10.9px;color:#d8d9da">73.1 Mbps</div><div class="t" style="right:81.0px;top:5.6px;line-height:12px;font-size:10.9px;color:#d8d9da">2.0 Mbps</div><div class="t" style="right:11.0px;top:5.6px;line-height:12px;font-size:10.9px;color:#d8d9da">182 kbps</div></div><div class="abs" style="left:3.6px;top:70.94px;width:368.6px;height:24.57px;background:#262628"><div class="abs" style="left:10.6px;top:11.6px;width:11.5px;height:3.6px;border-radius:1px;background:#629E51"></div><div class="t" style="left:29.2px;top:5.6px;line-height:12px;font-size:10.7px;color:#d8d9da">HTTP</div><div class="t" style="right:152.0px;top:5.6px;line-height:12px;font-size:10.9px;color:#d8d9da">11.0 Mbps</div><div class="t" style="right:81.0px;top:5.6px;line-height:12px;font-size:10.9px;color:#d8d9da">168 kbps</div><div class="t" style="right:11.0px;top:5.6px;line-height:12px;font-size:10.9px;color:#d8d9da">66 kbps</div></div><div class="abs" style="left:3.6px;top:95.51px;width:368.6px;height:24.57px;background:transparent"><div class="abs" style="left:10.6px;top:11.6px;width:11.5px;height:3.6px;border-radius:1px;background:#DEDAF7"></div><div class="t" style="left:29.2px;top:5.6px;line-height:12px;font-size:10.7px;color:#d8d9da">SSDP</div><div class="t" style="right:152.0px;top:5.6px;line-height:12px;font-size:10.9px;color:#d8d9da">29 kbps</div><div class="t" style="right:81.0px;top:5.6px;line-height:12px;font-size:10.9px;color:#d8d9da">21 kbps</div><div class="t" style="right:11.0px;top:5.6px;line-height:12px;font-size:10.9px;color:#d8d9da">23 kbps</div></div><div class="abs" style="left:3.6px;top:120.08px;width:368.6px;height:24.57px;background:#262628"><div class="abs" style="left:10.6px;top:11.6px;width:11.5px;height:3.6px;border-radius:1px;background:#F9BA8F"></div><div class="t" style="left:29.2px;top:5.6px;line-height:12px;font-size:10.7px;color:#d8d9da">Google</div><div class="t" style="right:152.0px;top:5.6px;line-height:12px;font-size:10.9px;color:#d8d9da">1.7 Mbps</div><div class="t" style="right:81.0px;top:5.6px;line-height:12px;font-size:10.9px;color:#d8d9da">78 kbps</div><div class="t" style="right:11.0px;top:5.6px;line-height:12px;font-size:10.9px;color:#d8d9da">21 kbps</div></div><div class="abs" style="left:3.6px;top:144.65px;width:368.6px;height:24.57px;background:transparent"><div class="abs" style="left:10.6px;top:11.6px;width:11.5px;height:3.6px;border-radius:1px;background:#890F02"></div><div class="t" style="left:29.2px;top:5.6px;line-height:12px;font-size:10.7px;color:#d8d9da">DNS</div><div class="t" style="right:152.0px;top:5.6px;line-height:12px;font-size:10.9px;color:#d8d9da">23 kbps</div><div class="t" style="right:81.0px;top:5.6px;line-height:12px;font-size:10.9px;color:#d8d9da">14 kbps</div><div class="t" style="right:11.0px;top:5.6px;line-height:12px;font-size:10.9px;color:#d8d9da">14 kbps</div></div><div class="abs" style="left:3.6px;top:169.22px;width:368.6px;height:24.57px;background:#262628"><div class="abs" style="left:10.6px;top:11.6px;width:11.5px;height:3.6px;border-radius:1px;background:#6ED0E0"></div><div class="t" style="left:29.2px;top:5.6px;line-height:12px;font-size:10.7px;color:#d8d9da">SSL_No_Cert</div><div class="t" style="right:152.0px;top:5.6px;line-height:12px;font-size:10.9px;color:#d8d9da">2.5 Mbps</div><div class="t" style="right:81.0px;top:5.6px;line-height:12px;font-size:10.9px;color:#d8d9da">29 kbps</div><div class="t" style="right:11.0px;top:5.6px;line-height:12px;font-size:10.9px;color:#d8d9da">6 kbps</div></div><div class="abs" style="left:3.6px;top:193.79px;width:368.6px;height:24.57px;background:transparent"><div class="abs" style="left:10.6px;top:11.6px;width:11.5px;height:3.6px;border-radius:1px;background:#CCA300"></div><div class="t" style="left:29.2px;top:5.6px;line-height:12px;font-size:10.7px;color:#d8d9da">Syslog</div><div class="t" style="right:152.0px;top:5.6px;line-height:12px;font-size:10.9px;color:#d8d9da">7 kbps</div><div class="t" style="right:81.0px;top:5.6px;line-height:12px;font-size:10.9px;color:#d8d9da">2 kbps</div><div class="t" style="right:11.0px;top:5.6px;line-height:12px;font-size:10.9px;color:#d8d9da">2 kbps</div></div><div class="abs" style="left:3.6px;top:218.36px;width:368.6px;height:24.57px;background:#262628"></div><div class="abs" style="left:370.8px;top:5.3px;width:6.2px;height:29px;border-radius:3px;background:#3f3f50"></div></div>
</div></div>
<!-- navbar -->
<svg style="left:9px;top:10px" width="19" height="19" viewBox="0 0 19 19"><g fill="#b2b2b0"><rect x="0" y="0" width="9" height="9" rx="1.8"/><rect x="10" y="0" width="9" height="9" rx="1.8"/><rect x="0" y="10" width="9" height="9" rx="1.8"/><rect x="10" y="10" width="9" height="9" rx="1.8"/></g></svg>
<div class="t" style="left:38px;top:12px;font-size:18px;color:#8e8e8e">Firewall/DPI</div>
<svg style="left:143px;top:16px" width="9" height="12" viewBox="0 0 9 12"><path d="M1.5 1.2 L6.6 5.9 L1.5 10.6" fill="none" stroke="#8e8e8e" stroke-width="2.4"/></svg>
<div class="t" style="left:160px;top:12px;font-size:18px;color:#e3e3e3;letter-spacing:-.8px">DPI</div>
<svg style="left:196px;top:22px" width="7" height="4" viewBox="0 0 7 4"><path d="M0 0H6.4L3.2 3.2Z" fill="#d8d9da"/></svg>

<!-- buttons -->
<div class="btn" style="left:975px;width:46px"></div>
<div class="btn" style="left:1025px;width:33px"></div>
<div class="btn" style="left:1062px;width:33px"></div>
<div class="btn" style="left:1099px;width:32px"></div>
<div class="btn" style="left:1135px;width:36px"></div>
<div class="btn" style="left:1185px;width:35px"></div>
<div class="abs" style="left:1231px;top:3px;width:6px;height:32px;background:linear-gradient(90deg,#161719,#0f0f11)"></div>
<div class="btn" style="left:1236px;width:117px"></div>
<div class="btn" style="left:1357px;width:33px"></div>
<div class="btn" style="left:1394px;width:80px"></div>
<div class="abs" style="left:1425px;top:4px;width:1px;height:30px;background:#222224"></div>

<!-- add panel icon -->
<svg style="left:985px;top:11px" width="27" height="16" viewBox="985 11 27 16">
<defs><linearGradient id="gb" x1="0" x2="1" y1="0" y2="0"><stop offset="0" stop-color="#fff"/><stop offset=".55" stop-color="#f4f4f4"/><stop offset="1" stop-color="#cfcfcf"/></linearGradient>
<linearGradient id="go" x1="0" x2="0" y1="0" y2="1"><stop offset="0" stop-color="#f58a1f"/><stop offset="1" stop-color="#fdc02c"/></linearGradient></defs>
<rect x="985.8" y="17" width="3.4" height="9" fill="url(#gb)"/>
<rect x="990.1" y="14" width="3.8" height="12" fill="url(#gb)"/>
<rect x="994.9" y="19" width="3.3" height="7" fill="url(#gb)"/>
<rect x="999" y="12" width="3.3" height="14" fill="url(#gb)"/>
<path d="M1004 14.3h3.1v3.3h3.3v3.1h-3.3v3.3h-3.1v-3.3h-3.3v-3.1h3.3z" fill="url(#go)" stroke="#262628" stroke-width="1.2" paint-order="stroke"/>
</svg>
<!-- star -->
<svg style="left:1034px;top:11.8px" width="15.2" height="14.3" viewBox="0 0 17 16"><path d="M8.5 1.2 L10.7 6.1 L15.9 6.6 L12 10.2 L13.1 15.2 L8.5 12.6 L3.9 15.2 L5 10.2 L1.1 6.6 L6.3 6.1 Z" fill="none" stroke="#a4a4a4" stroke-width="1.45" stroke-linejoin="miter"/></svg>
<!-- share -->
<svg style="left:1070px;top:10px" width="18" height="17" viewBox="1070 10 18 17"><path d="M1078 13.2h-3.4a2.6 2.6 0 0 0-2.6 2.6v6.6a2.6 2.6 0 0 0 2.6 2.6h6.8a2.6 2.6 0 0 0 2.6-2.6v-2.6" fill="none" stroke="#9c9c9c" stroke-width="1.4"/><path d="M1081.2 11v2.4c-3.6 0-5.6 2-5.8 6.2 1.4-2.2 3-3 5.8-3v2.5l5-4.1z" fill="#9c9c9c"/></svg>
<!-- save -->
<svg style="left:1107px;top:12px" width="16" height="15" viewBox="1107 12 16 15"><path d="M1108.6 13.4h9.6l3.3 3.3v8.6h-12.9z" fill="none" stroke="#b4b4b4" stroke-width="1.3"/><path d="M1111 13.6v3.6h5.4v-3.6" fill="none" stroke="#b4b4b4" stroke-width="1.3"/><rect x="1113.4" y="14" width="1.6" height="2.4" fill="#b4b4b4"/><path d="M1111 25.2v-4.4h8v4.4" fill="none" stroke="#b4b4b4" stroke-width="1.3"/></svg>
<!-- gear -->
<svg style="left:1143px;top:9px" width="20" height="20" viewBox="-10.5 -10.5 21 21"><g fill="#7d7d7d"><circle r="6.6"/><g id="tth"><rect x="-2.1" y="-9.4" width="4.2" height="4.5" rx=".8"/></g><use href="#tth" transform="rotate(45)"/><use href="#tth" transform="rotate(90)"/><use href="#tth" transform="rotate(135)"/><use href="#tth" transform="rotate(180)"/><use href="#tth" transform="rotate(225)"/><use href="#tth" transform="rotate(270)"/><use href="#tth" transform="rotate(315)"/></g><circle r="1.9" fill="#29292b"/></svg>
<!-- monitor -->
<svg style="left:1193px;top:10px" width="20" height="17" viewBox="1193 10 20 17"><rect x="1194.6" y="11.6" width="16.2" height="11.6" rx="1.2" fill="none" stroke="#b6b6b6" stroke-width="1.3"/><rect x="1194.6" y="21" width="16.2" height="2.4" fill="#b6b6b6"/><path d="M1200.6 23.4h4.2l.6 1.6h1v1h-7.4v-1h1z" fill="#b6b6b6"/></svg>
<!-- clock -->
<svg style="left:1243px;top:11px" width="14" height="14" viewBox="-7 -7 14 14"><circle r="5.5" fill="none" stroke="#b4b4b4" stroke-width="1.3"/><path d="M0 -3.2V.4H-2.6" fill="none" stroke="#b4b4b4" stroke-width="1.2"/></svg>
<div class="t" style="left:1259.5px;top:13.3px;font-size:12.7px;color:#c4c4c4">Last 6 hours</div>
<svg style="left:1334.6px;top:16px" width="9" height="5" viewBox="0 0 9 5"><path d="M0 0H8.6L4.3 4.6Z" fill="#a9a9a9"/></svg>
<!-- zoom out -->
<svg style="left:1364px;top:11px" width="19" height="18" viewBox="1364 11 19 18"><circle cx="1372.2" cy="18.3" r="5.4" fill="none" stroke="#b0b0b0" stroke-width="1.7"/><path d="M1376.2 22.4l4.6 4.3" stroke="#b0b0b0" stroke-width="2.2" stroke-linecap="round"/><rect x="1369.4" y="17.6" width="5.6" height="1.5" fill="#b0b0b0"/></svg>
<!-- refresh -->
<svg style="left:1402px;top:11px" width="17" height="16" viewBox="1402 11 17 16"><g fill="none" stroke="#b0b0b0" stroke-width="2"><path d="M1404.2 17.4a6.2 6.2 0 0 1 10.6-2.6"/><path d="M1416.2 20.6a6.2 6.2 0 0 1-10.6 2.6"/></g><path d="M1417.2 12.4v5.4h-5.4z" fill="#b0b0b0"/><path d="M1403.2 25.8v-5.4h5.4z" fill="#b0b0b0"/></svg>
<div class="t" style="left:1430px;top:13.3px;font-size:13px;color:#eb7b18">30s</div>
<svg style="left:1455.6px;top:16px" width="9" height="5" viewBox="0 0 9 5"><path d="M0 0H8.6L4.3 4.6Z" fill="#a9a9a9"/></svg>

</body></html>
